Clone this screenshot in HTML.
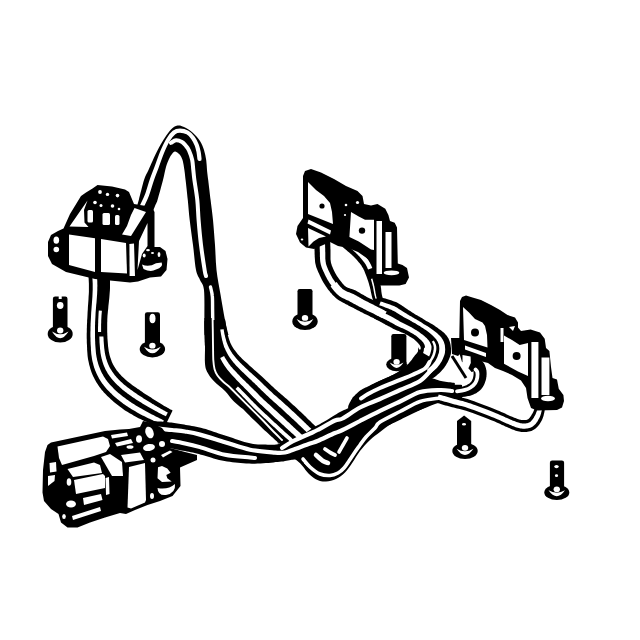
<!DOCTYPE html>
<html><head><meta charset="utf-8">
<style>
html,body{margin:0;padding:0;background:#fff;width:640px;height:640px;overflow:hidden}
svg{display:block}
</style></head><body>
<svg width="640" height="640" viewBox="0 0 640 640">
<path d="M134.0,216.0 C134.8,213.3 137.1,206.0 138.8,200.0 C140.4,194.0 142.4,185.0 144.0,180.0 C145.6,175.0 147.1,173.2 148.5,170.0 C149.9,166.8 150.8,164.8 152.5,161.0 C154.2,157.2 156.9,151.4 159.0,147.5 C161.1,143.6 163.0,140.5 165.0,137.5 C167.0,134.5 168.9,131.4 171.0,129.4 C173.1,127.4 175.3,126.0 177.5,125.6 C179.7,125.2 181.5,125.8 184.0,127.0 C186.5,128.2 189.8,130.2 192.5,132.5 C195.2,134.8 198.1,138.1 200.0,141.0 C201.9,143.9 203.0,146.8 204.0,150.0 C205.0,153.2 205.7,156.7 206.2,160.0 C206.7,163.3 206.7,166.7 207.0,170.0 C207.3,173.3 207.6,175.0 208.2,180.0 C208.8,185.0 209.8,193.3 210.6,200.0 C211.4,206.7 212.3,212.5 213.0,220.0 C213.7,227.5 214.4,236.7 215.0,245.0 C215.6,253.3 215.6,261.7 216.5,270.0 C217.4,278.3 219.2,286.7 220.6,295.0 C222.0,303.3 223.7,313.3 225.0,320.0 C226.3,326.7 227.9,332.5 228.5,335.0 L204.6,335.0 C204.6,332.5 204.5,327.5 204.4,320.0 C204.3,312.5 204.7,296.7 204.0,290.0 C203.3,283.3 201.3,283.3 200.0,280.0 C198.7,276.7 197.2,275.8 196.0,270.0 C194.8,264.2 194.1,253.3 193.0,245.0 C191.9,236.7 190.6,227.5 189.7,220.0 C188.8,212.5 188.5,206.7 187.8,200.0 C187.1,193.3 186.2,185.0 185.6,180.0 C185.0,175.0 184.9,173.2 184.4,170.0 C183.9,166.8 183.4,163.2 182.8,161.0 C182.2,158.8 181.7,157.8 181.0,156.5 C180.3,155.2 179.5,154.3 178.5,153.5 C177.5,152.7 176.1,151.4 175.0,151.5 C173.9,151.6 173.0,152.8 172.0,154.0 C171.0,155.2 170.0,156.8 169.0,159.0 C168.0,161.2 167.0,163.5 166.0,167.0 C165.0,170.5 164.4,174.5 163.0,180.0 C161.6,185.5 158.8,195.7 157.5,200.0 C156.2,204.3 156.1,203.3 155.0,206.0 C153.9,208.7 151.7,214.3 151.0,216.0 Z" fill="#000"/>
<path d="M142.0,206.0 C142.8,204.2 145.4,199.3 147.0,195.0 C148.6,190.7 150.2,184.6 151.8,180.0 C153.4,175.4 154.8,172.1 156.5,167.5 C158.2,162.9 160.1,157.1 162.0,152.5 C163.9,147.9 166.0,143.3 168.0,140.0 C170.0,136.7 172.0,134.1 174.0,132.5 C176.0,130.9 177.8,130.6 180.0,130.6 C182.2,130.6 185.3,131.3 187.5,132.5 C189.7,133.7 191.5,135.9 193.0,138.0 C194.5,140.1 195.8,142.7 196.7,145.0 C197.6,147.3 198.1,149.7 198.6,152.0 C199.1,154.3 199.3,157.8 199.5,159.0" stroke="#fff" stroke-width="4.2" fill="none" stroke-linecap="round" stroke-linejoin="round"/>
<path d="M171.0,142.8 C171.8,142.4 174.2,140.4 176.0,140.3 C177.8,140.2 180.3,141.1 182.0,142.0 C183.7,142.9 184.8,144.6 186.0,146.0 C187.2,147.4 188.0,148.2 189.0,150.5 C190.0,152.8 191.5,156.8 192.2,160.0 C192.9,163.2 192.9,166.7 193.3,170.0 C193.7,173.3 193.7,175.0 194.4,180.0 C195.1,185.0 196.6,193.3 197.3,200.0 C198.0,206.7 198.0,212.5 198.6,220.0 C199.2,227.5 200.0,236.7 201.0,245.0 C202.0,253.3 203.8,264.8 204.6,270.0 C205.4,275.2 205.8,275.0 206.0,276.0" stroke="#fff" stroke-width="4.0" fill="none" stroke-linecap="round" stroke-linejoin="round"/>
<path d="M210.5,287.0 C210.8,288.5 212.0,292.2 212.3,296.0 C212.7,299.8 212.5,305.2 212.6,310.0 C212.7,314.8 212.7,320.7 212.8,325.0 C212.9,329.3 213.0,334.2 213.0,336.0" stroke="#fff" stroke-width="3.4" fill="none" stroke-linecap="round" stroke-linejoin="round"/>
<path d="M204.4,318.0 C204.5,322.5 204.9,337.4 205.0,345.0 C205.1,352.6 204.6,359.2 205.0,363.8 C205.4,368.3 206.0,369.6 207.5,372.5 C209.0,375.4 210.8,377.9 213.8,381.0 C216.7,384.1 221.9,387.8 225.0,391.0 C228.1,394.2 229.6,397.0 232.5,400.0 C235.4,403.0 240.8,407.3 242.5,408.8 L246.0,401.0 C244.5,399.5 239.7,394.8 237.0,392.0 C234.3,389.2 232.7,386.8 230.0,384.0 C227.3,381.2 223.3,377.5 221.0,375.0 C218.7,372.5 217.3,371.2 216.0,369.0 C214.7,366.8 213.6,366.0 213.0,362.0 C212.4,358.0 212.7,352.3 212.5,345.0 C212.3,337.7 212.1,322.5 212.0,318.0 Z" fill="#000"/>
<path d="M225.0,319.2 L225.2,320.2 L225.4,321.3 L225.6,322.7 L225.8,324.2 L226.0,325.7 L226.3,327.4 L226.5,329.0 L226.8,330.6 L227.1,332.1 L227.4,333.5 L227.8,334.9 L228.2,336.3 L228.6,337.7 L229.0,339.0 L229.4,340.3 L229.9,341.5 L230.3,342.7 L230.8,343.7 L231.3,344.7 L231.8,345.7 L232.4,346.7 L233.0,347.7 L233.6,348.7 L234.3,349.7 L235.0,350.6 L235.7,351.6 L236.5,352.6 L237.2,353.5 L238.0,354.4 L238.8,355.3 L239.6,356.2 L240.5,357.1 L241.4,358.0 L242.3,358.9 L243.4,359.9 L244.5,360.9 L245.7,362.0 L246.9,363.1 L248.2,364.2 L249.4,365.4 L250.6,366.5 L251.8,367.6 L253.1,368.8 L254.4,369.9 L255.7,371.1 L257.1,372.3 L258.5,373.5 L259.9,374.8 L261.3,376.0 L262.7,377.3 L264.0,378.5 L265.3,379.7 L266.6,380.9 L267.8,382.1 L269.0,383.2 L270.1,384.3 L271.3,385.4 L272.5,386.5 L273.6,387.6 L274.8,388.7 L276.0,389.7 L277.2,390.8 L278.5,391.9 L279.8,393.0 L281.1,394.2 L282.4,395.3 L283.8,396.5 L285.1,397.7 L286.5,398.8 L287.9,400.0 L289.2,401.2 L290.5,402.5 L291.8,403.7 L293.1,404.9 L294.5,406.1 L295.8,407.3 L297.1,408.5 L298.3,409.7 L299.6,410.9 L300.9,412.0 L302.1,413.2 L303.2,414.3 L304.4,415.5 L305.6,416.6 L306.7,417.7 L307.9,418.9 L309.0,420.0 L310.2,421.1 L311.3,422.2 L312.5,423.4 L313.7,424.5 L315.0,425.8 L316.4,427.1 L317.7,428.4 L319.1,429.7 L320.4,431.0 L321.5,432.1 L322.6,433.2 L323.5,434.0 L324.2,434.7 L299.8,461.3 L299.1,460.7 L298.1,459.8 L297.0,458.9 L295.8,457.8 L294.4,456.6 L293.0,455.4 L291.6,454.2 L290.2,452.9 L288.8,451.8 L287.5,450.6 L286.3,449.6 L285.1,448.5 L283.8,447.5 L282.6,446.4 L281.4,445.4 L280.2,444.3 L278.9,443.3 L277.7,442.2 L276.4,441.1 L275.1,440.0 L273.9,438.8 L272.6,437.6 L271.3,436.4 L270.0,435.2 L268.7,434.0 L267.4,432.8 L266.0,431.6 L264.7,430.4 L263.4,429.2 L262.1,428.0 L260.9,426.8 L259.6,425.5 L258.4,424.3 L257.1,423.1 L255.8,421.8 L254.5,420.6 L253.1,419.3 L251.8,418.0 L250.5,416.7 L249.2,415.3 L247.9,414.0 L246.6,412.7 L245.4,411.4 L244.2,410.2 L243.0,408.9 L241.9,407.7 L240.7,406.4 L239.6,405.2 L238.4,404.0 L237.3,402.7 L236.1,401.5 L235.0,400.2 L233.7,398.8 L232.5,397.4 L231.2,396.0 L229.8,394.6 L228.5,393.1 L227.2,391.6 L225.8,390.1 L224.6,388.6 L223.4,387.2 L222.3,385.7 L221.2,384.3 L220.0,382.8 L218.9,381.2 L217.7,379.6 L216.5,378.0 L215.3,376.2 L214.2,374.5 L213.2,372.7 L212.2,370.8 L211.3,369.0 L210.5,367.2 L209.7,365.4 L209.0,363.6 L208.4,361.8 L207.8,359.9 L207.2,358.1 L206.7,356.2 L206.2,354.3 L205.8,352.4 L205.5,350.4 L205.2,348.5 L205.0,346.6 L204.8,344.8 L204.8,343.1 L204.7,341.4 L204.7,339.7 L204.6,338.1 L204.6,336.5 L204.5,334.8 L204.4,332.9 L204.4,331.0 L204.3,329.2 L204.3,327.4 L204.3,325.7 L204.3,324.1 L204.3,322.8 L204.4,321.6 L204.4,320.8 Z" fill="#000"/>
<path d="M223.7,329.3 L223.9,330.9 L224.2,332.4 L224.4,333.9 L224.8,335.3 L225.1,336.7 L225.5,338.2 L225.9,339.6 L226.2,340.9 L226.6,342.2 L227.1,343.4 L227.5,344.6 L228.0,345.7 L228.5,346.8 L229.0,347.9 L229.6,349.0 L230.2,350.1 L230.9,351.2 L231.6,352.3 L232.3,353.4 L233.1,354.5 L233.9,355.5 L234.7,356.6 L235.5,357.6 L236.3,358.6 L237.2,359.6 L238.1,360.6 L239.1,361.6 L240.2,362.7 L241.3,363.8 L242.5,364.9 L243.7,366.1 L244.9,367.2 L246.2,368.4 L247.4,369.6 L248.6,370.7 L249.9,371.9 L251.2,373.1 L252.5,374.3 L253.9,375.6 L255.3,376.8 L256.7,378.1 L258.0,379.3 L259.4,380.6 L260.7,381.8 L262.0,383.0 L263.2,384.2 L264.4,385.4 L265.6,386.6 L266.8,387.7 L267.9,388.8 L269.1,389.9 L270.3,391.0 L271.5,392.1 L272.7,393.2 L273.9,394.4 L275.2,395.5 L276.5,396.6 L277.8,397.8 L279.1,398.9 L280.5,400.1 L281.8,401.3 L283.2,402.5 L284.5,403.7 L285.8,404.9 L287.2,406.1 L288.5,407.3 L289.8,408.5 L291.1,409.7 L292.4,410.9 L293.7,412.1 L295.0,413.3 L296.3,414.5 L297.5,415.7 L298.7,416.8 L299.9,418.0 L301.1,419.1 L302.3,420.2 L303.4,421.3 L304.6,422.4 L305.8,423.6 L306.9,424.7 L308.1,425.8 L309.2,426.9 L310.5,428.1 L311.8,429.3 L313.2,430.6 L314.5,431.9 L315.9,433.2 L317.2,434.5 L318.4,435.6 L319.4,436.6 L320.3,437.5 L321.0,438.2 L317.4,442.2 L316.7,441.5 L315.7,440.6 L314.7,439.6 L313.5,438.5 L312.2,437.3 L310.8,436.0 L309.4,434.7 L308.1,433.4 L306.7,432.2 L305.5,431.0 L304.3,429.9 L303.1,428.8 L302.0,427.7 L300.8,426.6 L299.6,425.5 L298.5,424.4 L297.3,423.3 L296.1,422.1 L294.9,421.0 L293.7,419.8 L292.4,418.7 L291.1,417.5 L289.8,416.3 L288.5,415.1 L287.2,413.9 L285.9,412.7 L284.6,411.5 L283.3,410.3 L282.0,409.1 L280.7,407.8 L279.3,406.7 L278.0,405.5 L276.7,404.3 L275.3,403.1 L274.0,401.9 L272.7,400.7 L271.4,399.6 L270.1,398.4 L268.9,397.3 L267.6,396.1 L266.4,395.0 L265.2,393.8 L264.1,392.7 L262.9,391.6 L261.7,390.4 L260.5,389.2 L259.3,388.1 L258.1,386.9 L256.9,385.6 L255.6,384.4 L254.3,383.1 L252.9,381.9 L251.6,380.6 L250.2,379.3 L248.8,378.1 L247.5,376.8 L246.2,375.6 L244.9,374.3 L243.7,373.1 L242.5,371.9 L241.2,370.7 L240.0,369.4 L238.8,368.2 L237.6,367.0 L236.5,365.9 L235.4,364.7 L234.4,363.6 L233.4,362.5 L232.5,361.3 L231.7,360.2 L230.8,359.0 L230.0,357.9 L229.2,356.7 L228.4,355.5 L227.7,354.3 L227.0,353.1 L226.4,351.8 L225.7,350.6 L225.2,349.3 L224.6,348.1 L224.1,346.9 L223.7,345.6 L223.3,344.3 L222.9,343.0 L222.6,341.6 L222.2,340.2 L221.9,338.7 L221.6,337.3 L221.3,335.8 L221.0,334.3 L220.8,332.8 L220.5,331.2 L220.3,329.6 Z" fill="#fff"/>
<path d="M224.1,356.1 L224.8,357.4 L225.6,358.7 L226.4,360.0 L227.2,361.3 L228.1,362.6 L229.0,363.9 L229.9,365.1 L230.9,366.4 L232.0,367.6 L233.1,368.9 L234.2,370.1 L235.4,371.3 L236.6,372.6 L237.8,373.9 L239.0,375.1 L240.2,376.4 L241.5,377.7 L242.7,379.0 L244.1,380.3 L245.4,381.6 L246.7,382.9 L248.1,384.1 L249.4,385.4 L250.7,386.7 L252.0,388.0 L253.3,389.2 L254.5,390.4 L255.7,391.6 L256.9,392.8 L258.1,394.0 L259.2,395.2 L260.4,396.4 L261.6,397.5 L262.8,398.7 L264.0,399.9 L265.3,401.0 L266.6,402.2 L267.9,403.4 L269.2,404.6 L270.5,405.8 L271.8,407.0 L273.1,408.2 L274.4,409.4 L275.7,410.6 L277.1,411.8 L278.4,413.0 L279.7,414.2 L281.0,415.4 L282.3,416.6 L283.6,417.8 L284.9,419.0 L286.2,420.2 L287.5,421.4 L288.8,422.6 L290.1,423.8 L291.3,424.9 L292.5,426.0 L293.7,427.2 L294.9,428.3 L296.1,429.4 L297.3,430.4 L298.4,431.5 L299.6,432.6 L300.8,433.7 L302.0,434.8 L303.2,436.0 L304.6,437.2 L306.0,438.5 L307.4,439.8 L308.7,441.0 L310.0,442.2 L311.2,443.4 L312.3,444.4 L313.2,445.2 L313.9,445.9 L310.3,449.9 L309.6,449.2 L308.7,448.4 L307.6,447.4 L306.3,446.3 L305.0,445.1 L303.6,443.8 L302.2,442.5 L300.9,441.3 L299.5,440.1 L298.3,438.9 L297.1,437.8 L295.9,436.7 L294.7,435.7 L293.5,434.6 L292.3,433.5 L291.1,432.4 L289.9,431.3 L288.7,430.2 L287.4,429.1 L286.2,428.0 L284.9,426.8 L283.7,425.6 L282.4,424.4 L281.1,423.2 L279.8,422.0 L278.4,420.8 L277.1,419.6 L275.8,418.4 L274.5,417.2 L273.2,416.0 L271.9,414.8 L270.6,413.6 L269.3,412.3 L268.0,411.1 L266.7,409.9 L265.4,408.7 L264.1,407.5 L262.8,406.3 L261.5,405.1 L260.2,403.9 L259.0,402.7 L257.7,401.5 L256.5,400.3 L255.4,399.1 L254.2,397.9 L253.0,396.7 L251.8,395.5 L250.6,394.2 L249.4,393.0 L248.2,391.8 L247.0,390.5 L245.7,389.2 L244.4,387.9 L243.1,386.6 L241.7,385.3 L240.4,384.0 L239.1,382.6 L237.8,381.3 L236.5,380.0 L235.3,378.6 L234.1,377.3 L232.9,376.0 L231.7,374.7 L230.6,373.4 L229.4,372.1 L228.3,370.7 L227.2,369.4 L226.2,368.0 L225.1,366.6 L224.2,365.2 L223.3,363.8 L222.5,362.4 L221.7,360.9 L220.9,359.5 L220.2,358.0 Z" fill="#fff"/>
<path d="M237.9,386.4 L239.3,387.8 L240.6,389.1 L241.9,390.5 L243.2,391.8 L244.5,393.1 L245.7,394.3 L246.9,395.6 L248.1,396.8 L249.3,398.0 L250.4,399.2 L251.6,400.4 L252.8,401.6 L254.0,402.9 L255.2,404.1 L256.4,405.3 L257.6,406.5 L258.9,407.8 L260.2,409.0 L261.5,410.3 L262.8,411.5 L264.1,412.7 L265.4,413.9 L266.7,415.1 L268.0,416.3 L269.3,417.5 L270.6,418.8 L271.9,420.0 L273.2,421.2 L274.5,422.4 L275.9,423.6 L277.2,424.8 L278.5,426.0 L279.8,427.2 L281.1,428.4 L282.4,429.6 L283.6,430.8 L284.9,431.9 L286.1,433.0 L287.3,434.1 L288.6,435.2 L289.8,436.3 L291.0,437.3 L292.1,438.4 L293.3,439.5 L294.5,440.6 L295.8,441.6 L297.0,442.8 L298.4,444.0 L299.8,445.2 L301.2,446.5 L302.6,447.8 L303.9,449.0 L305.1,450.1 L306.2,451.0 L307.1,451.9 L307.9,452.5 L305.4,455.2 L304.7,454.5 L303.8,453.7 L302.7,452.7 L301.4,451.6 L300.1,450.5 L298.7,449.2 L297.3,448.0 L295.9,446.7 L294.5,445.5 L293.3,444.4 L292.0,443.3 L290.8,442.2 L289.6,441.2 L288.4,440.1 L287.2,439.0 L286.0,438.0 L284.8,436.9 L283.6,435.8 L282.3,434.7 L281.1,433.6 L279.8,432.4 L278.5,431.2 L277.2,430.0 L275.9,428.8 L274.6,427.6 L273.3,426.4 L272.0,425.2 L270.7,424.0 L269.3,422.7 L268.1,421.5 L266.8,420.3 L265.5,419.1 L264.2,417.9 L262.9,416.7 L261.6,415.5 L260.3,414.2 L259.0,413.0 L257.7,411.7 L256.4,410.5 L255.1,409.2 L253.8,407.9 L252.6,406.7 L251.4,405.5 L250.2,404.2 L249.0,403.0 L247.8,401.8 L246.7,400.6 L245.5,399.3 L244.3,398.1 L243.1,396.9 L241.9,395.6 L240.7,394.3 L239.4,393.0 L238.1,391.7 L236.8,390.3 L235.5,388.9 Z" fill="#fff"/>
<path d="M212.6,318.0 C212.6,320.0 212.7,325.5 212.8,330.0 C212.9,334.5 212.9,340.0 213.0,345.0 C213.1,350.0 213.1,356.0 213.3,360.0 C213.6,364.0 213.8,366.4 214.5,369.0 C215.2,371.6 216.1,373.4 217.5,375.5 C218.9,377.6 221.1,379.7 223.0,381.5 C224.9,383.3 226.6,384.2 229.0,386.5 C231.4,388.8 234.0,391.5 237.5,395.0 C241.0,398.5 245.9,403.4 250.0,407.5 C254.1,411.6 258.3,415.8 262.0,419.5 C265.7,423.2 268.7,426.6 272.0,430.0 C275.3,433.4 280.3,438.3 282.0,440.0" stroke="#fff" stroke-width="1.9" fill="none" stroke-linecap="round" stroke-linejoin="round"/>
<path d="M109.7,271.6 L109.7,272.6 L109.8,273.9 L109.8,275.4 L109.9,277.1 L109.9,279.1 L110.0,281.1 L110.0,283.4 L110.0,285.6 L110.0,288.0 L109.9,290.4 L109.7,292.8 L109.5,295.4 L109.3,298.0 L109.0,300.7 L108.7,303.4 L108.4,306.1 L108.2,308.7 L107.9,311.2 L107.7,313.5 L107.5,315.6 L107.4,317.6 L107.3,319.4 L107.3,321.2 L107.2,322.9 L107.2,324.5 L107.2,326.0 L107.2,327.5 L107.2,329.0 L107.2,330.5 L107.2,332.0 L107.3,333.5 L107.3,334.9 L107.4,336.3 L107.4,337.6 L107.5,338.9 L107.6,340.2 L107.7,341.5 L107.8,342.7 L107.9,344.0 L108.0,345.2 L108.1,346.5 L108.3,347.7 L108.4,348.8 L108.6,349.9 L108.7,350.9 L108.9,351.9 L109.1,352.8 L109.3,353.7 L109.5,354.7 L109.7,355.6 L110.0,356.6 L110.3,357.6 L110.7,358.6 L111.0,359.6 L111.4,360.6 L111.7,361.5 L112.1,362.5 L112.5,363.3 L112.9,364.2 L113.4,365.1 L113.9,365.9 L114.4,366.8 L114.9,367.6 L115.5,368.5 L116.0,369.3 L116.6,370.2 L117.3,371.0 L117.9,371.8 L118.6,372.6 L119.3,373.4 L120.0,374.2 L120.8,375.0 L121.5,375.9 L122.4,376.7 L123.2,377.5 L124.1,378.3 L125.0,379.2 L126.0,380.0 L127.0,380.9 L128.0,381.7 L129.0,382.5 L130.0,383.3 L131.0,384.1 L132.1,384.9 L133.2,385.7 L134.3,386.5 L135.5,387.3 L136.6,388.1 L137.8,388.9 L139.0,389.6 L140.1,390.5 L141.3,391.3 L142.4,392.1 L143.6,392.9 L144.8,393.7 L146.0,394.5 L147.3,395.3 L148.5,396.0 L149.7,396.8 L151.0,397.6 L152.2,398.4 L153.4,399.2 L154.6,400.0 L155.9,400.8 L157.1,401.5 L158.3,402.3 L159.6,403.1 L160.8,403.8 L162.0,404.5 L163.1,405.2 L164.2,405.9 L165.3,406.5 L166.4,407.1 L167.5,407.7 L168.6,408.3 L169.6,408.9 L170.5,409.4 L171.4,409.8 L172.1,410.2 L172.6,410.6 L163.4,429.4 L162.8,429.2 L162.0,428.9 L161.1,428.5 L160.1,428.1 L159.0,427.6 L157.9,427.1 L156.7,426.5 L155.4,425.9 L154.2,425.3 L152.9,424.8 L151.7,424.2 L150.4,423.7 L149.1,423.1 L147.7,422.5 L146.3,421.8 L144.8,421.2 L143.4,420.5 L141.9,419.8 L140.5,419.1 L139.0,418.4 L137.6,417.7 L136.3,416.9 L134.9,416.2 L133.5,415.4 L132.1,414.6 L130.6,413.8 L129.2,412.9 L127.8,412.1 L126.4,411.2 L125.0,410.4 L123.7,409.4 L122.4,408.5 L121.1,407.5 L119.7,406.5 L118.4,405.6 L117.1,404.5 L115.8,403.5 L114.5,402.5 L113.3,401.4 L112.0,400.3 L110.8,399.2 L109.6,398.1 L108.5,397.0 L107.3,395.9 L106.2,394.7 L105.0,393.6 L103.9,392.4 L102.8,391.1 L101.7,389.9 L100.7,388.6 L99.7,387.3 L98.8,385.9 L97.9,384.6 L97.0,383.3 L96.2,381.9 L95.4,380.6 L94.7,379.2 L94.0,377.8 L93.3,376.4 L92.6,374.9 L92.0,373.5 L91.4,372.0 L90.9,370.5 L90.4,369.0 L90.0,367.6 L89.6,366.1 L89.2,364.7 L88.9,363.2 L88.6,361.8 L88.3,360.4 L88.0,359.0 L87.8,357.5 L87.6,356.1 L87.5,354.7 L87.4,353.3 L87.3,352.0 L87.2,350.7 L87.1,349.4 L87.1,348.1 L87.0,346.8 L87.0,345.4 L86.9,344.0 L86.8,342.6 L86.8,341.1 L86.8,339.7 L86.7,338.2 L86.7,336.7 L86.7,335.2 L86.7,333.6 L86.8,332.0 L86.8,330.4 L86.8,328.8 L86.9,327.2 L86.9,325.6 L87.0,323.9 L87.1,322.2 L87.1,320.4 L87.3,318.5 L87.4,316.5 L87.5,314.4 L87.6,312.1 L87.8,309.6 L87.9,307.0 L88.1,304.4 L88.3,301.7 L88.5,299.0 L88.6,296.4 L88.8,294.0 L88.9,291.7 L88.9,289.6 L88.9,287.7 L88.9,285.7 L88.9,283.7 L88.8,281.7 L88.7,279.8 L88.6,278.0 L88.5,276.3 L88.4,274.8 L88.3,273.5 L88.3,272.4 Z" fill="#000"/>
<path d="M96.9,272.1 L96.9,273.1 L97.0,274.4 L97.0,276.0 L97.1,277.7 L97.2,279.5 L97.3,281.5 L97.3,283.6 L97.4,285.7 L97.3,287.8 L97.3,289.9 L97.2,292.1 L97.1,294.5 L96.9,297.1 L96.7,299.7 L96.5,302.4 L96.2,305.1 L96.0,307.7 L95.8,310.2 L95.6,312.7 L95.5,314.9 L95.4,316.9 L95.3,318.9 L95.2,320.7 L95.1,322.5 L95.1,324.1 L95.0,325.8 L95.0,327.3 L95.0,328.9 L95.0,330.4 L95.0,332.0 L95.0,333.5 L95.0,335.1 L95.0,336.5 L95.0,338.0 L95.1,339.4 L95.1,340.8 L95.2,342.1 L95.2,343.5 L95.3,344.8 L95.4,346.2 L95.5,347.4 L95.6,348.7 L95.7,349.9 L95.8,351.2 L95.9,352.4 L96.0,353.6 L96.2,354.8 L96.4,356.0 L96.6,357.2 L96.9,358.5 L97.1,359.7 L97.4,361.0 L97.8,362.2 L98.1,363.5 L98.5,364.8 L98.9,366.0 L99.4,367.3 L99.9,368.5 L100.4,369.8 L100.9,371.0 L101.5,372.2 L102.1,373.4 L102.8,374.6 L103.4,375.7 L104.1,376.9 L104.9,378.0 L105.6,379.2 L106.4,380.3 L107.3,381.4 L108.1,382.5 L109.0,383.6 L110.0,384.7 L111.0,385.8 L112.0,386.8 L113.0,387.8 L114.0,388.9 L115.1,389.9 L116.2,390.9 L117.3,391.9 L118.4,392.9 L119.5,393.8 L120.7,394.8 L121.9,395.7 L123.1,396.7 L124.3,397.6 L125.6,398.5 L126.8,399.4 L128.1,400.3 L129.3,401.2 L130.6,402.1 L131.9,402.9 L133.2,403.8 L134.5,404.6 L135.8,405.4 L137.2,406.2 L138.5,407.0 L139.8,407.8 L141.2,408.6 L142.5,409.3 L143.8,410.1 L145.1,410.8 L146.5,411.6 L147.9,412.3 L149.2,413.0 L150.6,413.7 L151.9,414.4 L153.3,415.1 L154.6,415.7 L155.8,416.4 L157.0,417.0 L158.2,417.6 L159.4,418.2 L160.6,418.7 L161.7,419.3 L162.9,419.9 L163.9,420.4 L161.8,424.6 L160.8,424.1 L159.6,423.6 L158.4,423.0 L157.2,422.4 L156.0,421.8 L154.8,421.3 L153.5,420.7 L152.3,420.1 L151.0,419.5 L149.6,418.8 L148.2,418.2 L146.8,417.5 L145.4,416.8 L144.0,416.1 L142.6,415.4 L141.2,414.7 L139.8,413.9 L138.5,413.2 L137.1,412.4 L135.7,411.6 L134.4,410.8 L133.0,410.0 L131.6,409.2 L130.2,408.3 L128.9,407.5 L127.5,406.6 L126.2,405.7 L124.9,404.8 L123.6,403.9 L122.4,402.9 L121.1,402.0 L119.8,401.0 L118.6,400.0 L117.3,399.0 L116.1,398.0 L114.9,397.0 L113.7,395.9 L112.6,394.9 L111.5,393.8 L110.3,392.7 L109.2,391.6 L108.1,390.5 L107.1,389.4 L106.0,388.2 L105.0,387.0 L104.0,385.8 L103.1,384.6 L102.2,383.4 L101.4,382.2 L100.6,380.9 L99.8,379.7 L99.0,378.4 L98.3,377.1 L97.6,375.8 L97.0,374.5 L96.4,373.2 L95.8,371.8 L95.2,370.4 L94.7,369.0 L94.2,367.7 L93.8,366.3 L93.4,364.9 L93.1,363.6 L92.7,362.2 L92.4,360.9 L92.1,359.5 L91.9,358.2 L91.7,356.8 L91.5,355.5 L91.3,354.2 L91.2,352.9 L91.1,351.6 L91.0,350.4 L90.9,349.1 L90.9,347.8 L90.8,346.5 L90.7,345.1 L90.6,343.8 L90.6,342.4 L90.5,341.0 L90.5,339.6 L90.5,338.1 L90.4,336.6 L90.4,335.1 L90.4,333.6 L90.4,332.0 L90.5,330.4 L90.5,328.9 L90.5,327.3 L90.6,325.7 L90.6,324.0 L90.7,322.3 L90.8,320.5 L90.9,318.7 L91.0,316.7 L91.1,314.6 L91.2,312.3 L91.4,309.9 L91.6,307.3 L91.8,304.7 L92.0,302.0 L92.2,299.3 L92.4,296.7 L92.5,294.2 L92.6,291.9 L92.7,289.8 L92.7,287.7 L92.7,285.7 L92.7,283.6 L92.6,281.6 L92.5,279.7 L92.4,277.9 L92.3,276.2 L92.2,274.6 L92.2,273.3 L92.1,272.3 Z" fill="#fff"/>
<path d="M103.4,336.4 L103.5,337.7 L103.6,339.1 L103.6,340.4 L103.7,341.7 L103.8,343.0 L103.9,344.3 L104.0,345.5 L104.1,346.8 L104.2,348.0 L104.4,349.2 L104.5,350.3 L104.7,351.4 L104.8,352.4 L105.0,353.5 L105.2,354.5 L105.4,355.5 L105.7,356.5 L105.9,357.6 L106.2,358.7 L106.6,359.8 L106.9,360.8 L107.3,361.9 L107.7,362.9 L108.1,364.0 L108.5,365.0 L109.0,366.0 L109.4,366.9 L110.0,367.9 L110.5,368.9 L111.1,369.8 L111.7,370.8 L112.3,371.7 L112.9,372.6 L113.6,373.6 L114.3,374.5 L115.0,375.4 L115.8,376.3 L116.5,377.2 L117.3,378.1 L118.2,379.0 L119.1,379.9 L120.0,380.8 L120.9,381.7 L121.9,382.6 L122.9,383.5 L123.9,384.4 L124.9,385.2 L126.0,386.1 L127.0,386.9 L128.1,387.8 L129.2,388.6 L130.4,389.5 L131.6,390.3 L132.7,391.1 L133.9,392.0 L135.1,392.8 L136.3,393.6 L137.5,394.4 L138.7,395.2 L139.9,396.0 L141.2,396.8 L142.4,397.6 L143.6,398.4 L144.9,399.2 L146.2,400.0 L147.4,400.8 L148.7,401.5 L149.9,402.3 L151.2,403.1 L152.5,403.9 L153.8,404.6 L155.0,405.4 L156.3,406.1 L157.6,406.9 L158.8,407.6 L160.0,408.3 L161.1,408.9 L162.3,409.6 L163.4,410.2 L164.6,410.8 L165.7,411.4 L166.8,412.0 L167.8,412.5 L165.9,416.3 L164.9,415.8 L163.8,415.3 L162.6,414.7 L161.4,414.1 L160.3,413.5 L159.1,412.9 L157.9,412.2 L156.7,411.6 L155.5,410.9 L154.2,410.2 L152.9,409.5 L151.6,408.7 L150.2,408.0 L148.9,407.2 L147.6,406.5 L146.3,405.7 L145.0,405.0 L143.7,404.2 L142.4,403.4 L141.1,402.6 L139.8,401.8 L138.6,401.0 L137.3,400.2 L136.0,399.4 L134.8,398.6 L133.5,397.7 L132.3,396.9 L131.1,396.0 L129.9,395.2 L128.6,394.3 L127.4,393.4 L126.3,392.6 L125.1,391.7 L124.0,390.8 L122.8,389.9 L121.8,389.0 L120.7,388.0 L119.6,387.1 L118.6,386.1 L117.6,385.2 L116.6,384.2 L115.6,383.3 L114.7,382.3 L113.8,381.3 L112.9,380.3 L112.0,379.3 L111.2,378.3 L110.5,377.3 L109.7,376.3 L109.0,375.3 L108.3,374.2 L107.6,373.2 L107.0,372.1 L106.4,371.1 L105.8,370.0 L105.3,368.9 L104.8,367.8 L104.3,366.7 L103.8,365.6 L103.4,364.4 L103.0,363.3 L102.6,362.1 L102.3,361.0 L102.0,359.8 L101.6,358.6 L101.4,357.5 L101.1,356.3 L100.9,355.2 L100.7,354.1 L100.5,353.0 L100.4,351.9 L100.3,350.7 L100.1,349.5 L100.0,348.3 L99.9,347.1 L99.8,345.8 L99.7,344.5 L99.6,343.2 L99.5,341.9 L99.5,340.6 L99.4,339.2 L99.4,337.8 L99.3,336.4 Z" fill="#fff"/>
<path d="M101.9,310.7 L101.7,313.1 L101.5,315.2 L101.4,317.3 L101.3,319.1 L101.2,320.9 L101.2,322.7 L101.1,324.3 L101.1,325.9 L101.1,327.4 L101.1,329.0 L101.1,330.5 L101.1,332.0 L98.0,332.0 L98.0,330.5 L98.0,328.9 L98.0,327.4 L98.1,325.8 L98.1,324.2 L98.2,322.6 L98.2,320.8 L98.3,319.0 L98.4,317.1 L98.5,315.1 L98.6,312.9 L98.8,310.5 Z" fill="#fff"/>
<path d="M277.0,442.0 C279.2,444.2 286.6,451.8 290.0,455.0 C293.4,458.2 295.4,459.2 297.5,461.0 C299.6,462.8 300.6,463.8 302.5,466.0 C304.4,468.2 306.5,471.7 309.0,474.0 C311.5,476.3 314.7,478.8 317.5,480.0 C320.3,481.2 322.9,481.7 326.0,481.5 C329.1,481.3 332.8,480.5 336.0,479.0 C339.2,477.5 342.2,475.2 345.0,472.5 C347.8,469.8 350.0,466.1 352.5,462.5 C355.0,458.9 357.1,454.8 360.0,451.0 C362.9,447.2 366.7,443.2 370.0,440.0 C373.3,436.8 376.5,434.7 380.0,432.0 C383.5,429.3 386.5,426.8 391.0,424.0 C395.5,421.2 401.8,417.5 407.0,415.0 C412.2,412.5 417.3,411.0 422.5,409.0 C427.7,407.0 433.3,404.5 438.0,403.0 C442.7,401.5 446.6,400.5 450.6,400.0 C454.6,399.5 460.1,400.0 462.0,400.0 L462.0,385.0 C460.1,385.0 454.6,384.7 450.6,385.0 C446.6,385.3 442.7,386.0 438.0,387.0 C433.3,388.0 427.7,389.5 422.5,391.0 C417.3,392.5 412.2,394.2 407.0,396.0 C401.8,397.8 396.3,399.7 391.0,402.0 C385.7,404.3 380.2,407.3 375.0,410.0 C369.8,412.7 365.0,415.0 360.0,418.0 C355.0,421.0 349.7,425.0 345.0,428.0 C340.3,431.0 336.7,433.5 332.0,436.0 C327.3,438.5 322.3,440.7 317.0,443.0 C311.7,445.3 305.7,448.5 300.0,450.0 C294.3,451.5 285.8,451.7 283.0,452.0 Z" fill="#000"/>
<path d="M151.1,421.1 L152.0,421.1 L153.1,421.1 L154.5,421.2 L156.0,421.3 L157.7,421.4 L159.5,421.5 L161.3,421.6 L163.1,421.8 L164.9,421.9 L166.6,422.1 L168.2,422.3 L169.8,422.4 L171.3,422.6 L172.8,422.8 L174.3,423.0 L175.8,423.2 L177.4,423.5 L179.0,423.7 L180.6,423.9 L182.3,424.2 L184.1,424.5 L185.9,424.9 L187.8,425.2 L189.7,425.5 L191.8,425.9 L193.9,426.3 L196.1,426.8 L198.4,427.3 L200.8,427.8 L203.3,428.4 L205.8,429.1 L208.4,429.9 L210.9,430.8 L213.5,431.7 L216.1,432.5 L218.6,433.4 L221.0,434.2 L223.5,435.0 L225.8,435.7 L228.2,436.4 L230.5,437.3 L232.9,438.1 L235.2,438.9 L237.6,439.8 L239.9,440.5 L242.1,441.3 L244.4,442.0 L246.6,442.6 L248.8,443.1 L251.0,443.6 L253.2,444.0 L255.5,444.2 L258.0,444.4 L260.4,444.5 L262.9,444.6 L265.4,444.6 L267.8,444.7 L270.2,444.7 L272.4,444.7 L274.4,444.7 L276.1,444.5 L277.7,444.3 L279.2,444.1 L280.6,443.9 L281.9,443.6 L283.1,443.4 L284.4,443.1 L285.6,442.8 L286.9,442.5 L288.1,442.2 L289.3,441.8 L290.4,441.5 L291.2,441.3 L291.9,441.0 L292.4,440.8 L292.8,440.6 L293.3,440.3 L293.9,440.0 L294.7,439.5 L295.6,439.0 L296.8,438.3 L298.2,437.5 L299.7,436.5 L301.3,435.4 L303.1,434.3 L304.9,433.1 L306.8,431.9 L308.6,430.7 L310.4,429.5 L312.1,428.4 L313.8,427.4 L315.4,426.5 L317.0,425.6 L318.6,424.7 L320.1,423.9 L321.5,423.0 L323.0,422.2 L324.3,421.4 L325.7,420.7 L327.0,419.9 L328.2,419.2 L329.4,418.4 L330.5,417.7 L331.7,417.0 L332.9,416.3 L334.1,415.5 L335.4,414.7 L336.7,413.9 L338.1,413.1 L339.5,412.3 L341.0,411.6 L342.5,410.8 L344.0,410.1 L345.5,409.4 L347.0,408.7 L348.5,408.0 L350.1,407.3 L351.7,406.6 L353.3,405.9 L355.0,405.1 L356.9,404.2 L358.8,403.4 L360.7,402.5 L362.8,401.6 L364.8,400.7 L366.9,399.8 L368.9,398.9 L371.0,397.9 L373.0,397.0 L375.0,396.1 L376.9,395.2 L378.9,394.3 L380.9,393.3 L382.8,392.4 L384.8,391.5 L386.8,390.5 L388.8,389.5 L390.8,388.6 L392.8,387.7 L394.6,386.8 L396.4,385.9 L398.3,385.0 L400.2,383.9 L402.2,382.8 L404.4,381.6 L406.8,380.4 L409.3,379.3 L412.0,378.2 L415.0,377.3 L418.2,376.6 L421.5,376.5 L424.7,376.7 L427.6,377.1 L430.3,377.7 L432.7,378.4 L434.8,379.1 L436.8,379.8 L438.4,380.3 L439.8,380.7 L441.1,381.1 L442.4,381.3 L443.9,381.6 L445.4,381.8 L447.0,382.0 L448.6,382.2 L450.1,382.3 L451.5,382.5 L452.8,382.7 L453.9,382.8 L454.8,383.0 L455.2,399.0 L454.4,399.2 L453.3,399.4 L452.0,399.7 L450.6,399.9 L448.9,400.2 L447.1,400.4 L445.3,400.6 L443.3,400.8 L441.1,400.9 L438.9,400.9 L436.6,400.8 L434.2,400.5 L432.0,400.1 L429.9,399.7 L427.9,399.4 L426.2,399.2 L424.7,399.0 L423.5,399.0 L422.5,399.1 L421.8,399.4 L421.0,399.6 L420.0,400.0 L418.7,400.6 L417.2,401.4 L415.6,402.3 L413.8,403.4 L411.8,404.6 L409.7,405.8 L407.6,407.1 L405.4,408.2 L403.2,409.3 L401.2,410.2 L399.2,411.2 L397.2,412.1 L395.2,413.1 L393.2,414.1 L391.1,415.0 L389.1,416.0 L387.1,416.9 L385.0,417.9 L383.0,418.8 L380.9,419.8 L378.8,420.7 L376.7,421.7 L374.6,422.6 L372.5,423.5 L370.5,424.4 L368.6,425.3 L366.7,426.1 L365.0,426.9 L363.2,427.7 L361.6,428.5 L360.0,429.2 L358.5,429.9 L357.1,430.5 L355.7,431.2 L354.3,431.8 L353.0,432.4 L351.7,433.1 L350.5,433.7 L349.2,434.3 L348.1,434.8 L346.9,435.4 L345.8,436.0 L344.6,436.6 L343.4,437.3 L342.2,437.9 L340.8,438.6 L339.5,439.3 L338.0,440.1 L336.5,440.8 L335.1,441.6 L333.6,442.3 L332.1,443.0 L330.6,443.8 L329.0,444.5 L327.5,445.3 L326.0,446.0 L324.4,446.8 L322.9,447.6 L321.2,448.4 L319.5,449.3 L317.6,450.3 L315.7,451.3 L313.8,452.4 L311.8,453.4 L309.9,454.4 L307.9,455.4 L306.1,456.2 L304.4,457.0 L302.7,457.6 L301.3,458.1 L299.9,458.6 L298.6,458.9 L297.3,459.2 L296.1,459.3 L295.1,459.5 L294.0,459.6 L293.0,459.7 L291.9,459.8 L290.6,460.0 L289.4,460.3 L288.0,460.6 L286.5,460.8 L285.0,461.1 L283.3,461.4 L281.6,461.6 L279.7,461.8 L277.7,462.0 L275.6,462.1 L273.5,462.4 L271.1,462.7 L268.6,462.9 L266.0,463.1 L263.3,463.3 L260.5,463.5 L257.7,463.6 L254.8,463.7 L251.9,463.7 L249.0,463.6 L246.2,463.5 L243.4,463.3 L240.6,463.1 L237.9,462.8 L235.1,462.5 L232.4,462.2 L229.8,461.8 L227.1,461.4 L224.5,461.0 L221.8,460.6 L219.1,459.9 L216.4,459.2 L213.6,458.4 L210.9,457.6 L208.3,456.8 L205.8,456.1 L203.3,455.3 L201.0,454.7 L198.8,454.1 L196.7,453.6 L194.7,453.1 L192.8,452.6 L190.8,452.2 L188.9,451.8 L187.0,451.5 L185.1,451.1 L183.2,450.8 L181.3,450.4 L179.5,450.1 L177.7,449.8 L176.0,449.4 L174.4,449.1 L172.9,448.8 L171.4,448.5 L170.1,448.2 L168.7,447.9 L167.4,447.6 L166.1,447.4 L164.7,447.1 L163.4,446.9 L162.0,446.7 L160.4,446.4 L158.8,446.2 L157.1,446.0 L155.4,445.8 L153.8,445.6 L152.3,445.4 L151.0,445.2 L149.8,445.1 L148.9,444.9 Z" fill="#000"/>
<path d="M382.2,297.8 L383.0,298.0 L384.1,298.3 L385.4,298.6 L386.8,299.1 L388.4,299.6 L390.1,300.1 L391.7,300.6 L393.4,301.2 L395.0,301.7 L396.5,302.3 L397.8,303.0 L399.0,303.7 L400.2,304.4 L401.2,305.1 L402.1,305.7 L403.0,306.3 L403.7,306.8 L404.4,307.3 L405.1,307.8 L405.8,308.3 L406.6,308.8 L407.4,309.3 L408.3,309.9 L409.2,310.5 L410.2,311.1 L411.2,311.7 L412.2,312.4 L413.2,313.0 L414.3,313.7 L415.3,314.4 L416.4,315.0 L417.4,315.6 L418.5,316.2 L419.6,316.8 L420.7,317.4 L421.8,318.1 L422.9,318.8 L424.0,319.5 L425.1,320.2 L426.2,320.9 L427.3,321.5 L428.4,322.1 L429.6,322.7 L430.8,323.4 L431.9,324.1 L433.1,324.8 L434.3,325.6 L435.5,326.4 L436.7,327.2 L437.8,328.1 L438.9,328.9 L440.1,329.7 L441.2,330.5 L442.3,331.4 L443.4,332.3 L444.5,333.3 L445.5,334.4 L446.5,335.6 L447.5,337.0 L448.5,338.4 L449.1,340.0 L449.7,341.6 L450.2,343.3 L450.6,345.0 L450.8,346.7 L451.0,348.3 L451.0,349.9 L451.0,351.4 L451.0,352.8 L450.8,354.2 L450.4,355.6 L449.9,357.0 L449.4,358.3 L448.8,359.7 L448.2,361.1 L447.5,362.5 L446.7,363.8 L445.9,365.2 L445.0,366.6 L444.0,368.0 L442.9,369.3 L441.8,370.6 L440.7,371.7 L439.7,372.8 L438.6,373.8 L437.6,374.6 L436.6,375.4 L435.7,376.2 L434.8,376.9 L433.9,377.6 L433.0,378.2 L432.0,378.8 L431.0,379.5 L429.9,380.2 L428.8,380.9 L427.6,381.7 L426.3,382.4 L425.0,383.2 L423.6,384.0 L422.2,384.7 L420.7,385.6 L419.2,386.4 L417.6,387.2 L416.0,388.1 L414.3,389.0 L412.6,389.8 L410.8,390.7 L408.9,391.6 L407.0,392.5 L405.1,393.4 L403.1,394.4 L400.9,395.4 L398.7,396.4 L396.5,397.5 L394.3,398.4 L392.1,399.4 L390.0,400.3 L388.1,401.2 L386.2,402.0 L384.6,402.8 L383.0,403.4 L381.6,403.9 L380.2,404.3 L378.9,404.8 L377.7,405.2 L376.6,405.6 L375.4,406.0 L374.3,406.3 L373.3,406.7 L372.2,407.0 L371.0,407.3 L369.9,407.6 L368.7,407.9 L367.6,408.2 L366.5,408.5 L365.4,408.7 L364.4,408.9 L363.6,409.1 L362.8,409.2 L362.2,409.3 L355.8,396.7 L356.3,396.3 L356.8,395.7 L357.4,395.1 L358.2,394.4 L359.0,393.7 L359.9,393.0 L360.9,392.2 L361.9,391.5 L362.9,390.7 L363.8,390.0 L364.8,389.3 L365.8,388.7 L366.8,388.0 L367.8,387.4 L368.9,386.7 L370.0,386.0 L371.2,385.3 L372.5,384.5 L373.9,383.7 L375.4,382.8 L377.2,382.0 L379.1,381.1 L381.1,380.2 L383.2,379.3 L385.3,378.4 L387.4,377.4 L389.5,376.5 L391.4,375.6 L393.3,374.7 L394.9,373.8 L396.4,372.9 L397.9,371.9 L399.3,370.9 L400.7,369.9 L402.0,368.9 L403.3,367.9 L404.6,367.0 L405.7,366.0 L406.8,365.1 L407.8,364.3 L408.7,363.4 L409.4,362.6 L410.1,361.8 L410.7,361.1 L411.2,360.4 L411.8,359.7 L412.3,358.9 L412.9,358.1 L413.5,357.3 L414.1,356.4 L414.8,355.6 L415.5,354.8 L416.1,354.1 L416.6,353.5 L417.1,352.9 L417.4,352.3 L417.7,351.9 L417.9,351.5 L418.0,351.3 L418.0,351.0 L418.0,350.8 L418.1,350.5 L418.1,350.1 L418.1,349.7 L418.1,349.4 L418.2,349.0 L418.1,348.6 L418.1,348.3 L418.0,348.0 L418.0,347.8 L418.1,347.6 L418.2,347.6 L418.4,347.7 L418.5,347.9 L418.6,348.2 L418.8,348.5 L418.9,348.8 L419.1,349.2 L419.4,349.4 L419.5,349.6 L419.9,349.6 L420.2,349.6 L420.4,349.4 L420.6,349.1 L420.7,348.7 L420.7,348.2 L420.7,347.7 L420.6,347.1 L420.4,346.5 L420.2,345.9 L419.9,345.4 L419.5,344.8 L418.9,344.2 L418.4,343.5 L417.7,342.8 L417.0,342.1 L416.2,341.3 L415.4,340.6 L414.6,339.8 L413.8,339.1 L413.0,338.5 L412.1,338.0 L411.3,337.5 L410.4,336.9 L409.5,336.4 L408.5,335.8 L407.6,335.3 L406.6,334.7 L405.6,334.2 L404.7,333.6 L403.7,333.2 L402.7,332.8 L401.7,332.4 L400.7,332.0 L399.7,331.6 L398.6,331.1 L397.6,330.7 L396.4,330.2 L395.3,329.7 L394.2,329.2 L393.0,328.7 L392.0,328.1 L391.0,327.5 L390.1,327.0 L389.3,326.6 L388.5,326.2 L387.8,325.8 L387.1,325.4 L386.3,325.1 L385.5,324.7 L384.6,324.1 L383.5,323.5 L382.2,322.8 L380.9,322.0 L379.5,321.3 L378.1,320.6 L376.8,319.9 L375.6,319.2 L374.6,318.7 L373.8,318.2 Z" fill="#000"/>
<path d="M348.0,407.6 L348.1,406.9 L348.3,406.0 L348.6,405.1 L349.0,404.2 L349.5,403.1 L350.1,402.0 L350.7,400.9 L351.3,399.8 L352.0,398.7 L352.6,397.6 L353.4,396.8 L354.1,396.1 L354.8,395.4 L355.5,394.6 L356.2,393.9 L357.0,393.2 L357.8,392.5 L358.6,391.7 L359.5,391.0 L360.5,390.2 L361.5,389.7 L362.6,389.1 L363.6,388.6 L364.6,388.1 L365.5,387.6 L366.4,387.2 L367.4,386.7 L368.4,386.2 L369.5,385.7 L370.8,385.0 L372.3,384.3 L374.1,383.6 L375.9,382.7 L378.0,381.8 L380.1,380.8 L382.2,379.8 L384.4,378.8 L386.5,377.8 L388.7,376.9 L390.7,375.9 L392.8,375.0 L394.9,374.0 L397.0,373.1 L399.1,372.1 L401.3,371.1 L403.4,370.1 L405.4,369.2 L407.4,368.3 L409.3,367.4 L411.1,366.6 L412.8,365.9 L414.4,365.2 L416.0,364.6 L417.5,364.0 L418.9,363.5 L420.2,363.0 L421.3,362.6 L422.3,362.2 L423.1,361.9 L423.8,361.7 L440.2,400.3 L439.5,400.7 L438.7,401.1 L437.8,401.5 L436.7,402.0 L435.6,402.6 L434.4,403.1 L433.1,403.7 L431.8,404.4 L430.4,405.1 L428.9,405.8 L427.3,406.5 L425.6,407.3 L423.7,408.2 L421.8,409.2 L419.7,410.2 L417.6,411.2 L415.5,412.2 L413.4,413.3 L411.3,414.3 L409.3,415.3 L407.2,416.3 L405.1,417.3 L403.0,418.3 L400.8,419.4 L398.7,420.4 L396.6,421.4 L394.6,422.4 L392.7,423.3 L390.9,424.2 L389.2,425.0 L387.7,425.6 L386.3,426.2 L385.0,426.7 L383.9,427.2 L382.9,427.5 L382.0,427.8 L381.3,428.1 L380.7,428.3 L380.1,428.5 L379.5,428.8 L378.9,428.8 L378.2,428.9 L377.6,428.9 L377.0,429.0 L376.4,429.0 L375.8,429.1 L375.2,429.1 L374.6,429.2 L374.0,429.3 L373.4,429.4 L372.6,429.3 L371.7,429.2 L370.7,429.2 L369.7,429.3 L368.6,429.4 L367.6,429.5 L366.6,429.5 L365.6,429.6 L364.7,429.5 L364.0,429.4 Z" fill="#000"/>
<path d="M330.0,235.7 L330.0,236.6 L330.1,237.7 L330.1,239.0 L330.2,240.4 L330.2,242.0 L330.3,243.6 L330.3,245.2 L330.4,246.8 L330.4,248.3 L330.5,249.8 L330.5,251.1 L330.5,252.5 L330.5,253.8 L330.5,255.0 L330.5,256.2 L330.5,257.2 L330.5,258.3 L330.5,259.2 L330.6,260.0 L330.7,260.8 L330.8,261.5 L330.9,262.2 L331.0,262.8 L331.2,263.4 L331.4,264.1 L331.6,264.7 L331.8,265.4 L332.1,266.2 L332.5,267.0 L332.8,267.9 L333.3,268.9 L333.7,269.9 L334.2,270.9 L334.7,271.9 L335.2,272.9 L335.8,273.9 L336.4,274.9 L336.9,275.9 L337.5,276.8 L338.2,277.8 L338.9,278.7 L339.6,279.8 L340.4,280.8 L341.2,281.8 L342.0,282.8 L342.7,283.7 L343.5,284.6 L344.3,285.4 L345.0,286.0 L345.6,286.6 L346.3,287.0 L347.0,287.3 L347.7,287.7 L348.6,288.0 L349.5,288.3 L350.6,288.7 L351.8,289.1 L353.1,289.5 L354.4,290.1 L355.7,290.6 L356.9,291.3 L358.1,292.0 L359.2,292.6 L360.3,293.3 L361.4,293.9 L362.5,294.5 L363.6,295.1 L364.6,295.7 L365.7,296.3 L366.7,296.9 L367.8,297.5 L368.8,298.0 L369.9,298.5 L371.0,299.1 L372.1,299.6 L373.1,300.2 L374.2,300.7 L375.3,301.2 L376.5,301.8 L377.6,302.3 L378.7,303.0 L379.9,303.6 L381.2,304.3 L382.4,305.0 L383.7,305.7 L384.8,306.3 L385.9,306.9 L386.9,307.5 L387.7,307.9 L388.4,308.3 L381.6,321.7 L381.0,321.4 L380.1,321.0 L379.1,320.6 L377.9,320.1 L376.7,319.5 L375.4,318.9 L374.1,318.3 L372.8,317.8 L371.6,317.2 L370.4,316.7 L369.3,316.1 L368.3,315.6 L367.2,315.0 L366.1,314.5 L364.9,314.0 L363.8,313.4 L362.7,312.8 L361.6,312.3 L360.4,311.7 L359.3,311.1 L358.1,310.5 L357.0,309.9 L355.8,309.3 L354.7,308.7 L353.6,308.1 L352.5,307.5 L351.4,306.9 L350.3,306.4 L349.3,305.9 L348.3,305.4 L347.4,304.8 L346.5,304.4 L345.5,303.9 L344.4,303.3 L343.2,302.7 L341.9,302.1 L340.6,301.3 L339.2,300.5 L337.7,299.5 L336.4,298.4 L335.0,297.3 L333.8,296.1 L332.6,294.9 L331.5,293.6 L330.4,292.4 L329.4,291.1 L328.4,289.9 L327.5,288.7 L326.7,287.4 L325.8,286.2 L325.0,285.0 L324.2,283.7 L323.4,282.5 L322.7,281.2 L322.0,279.9 L321.4,278.7 L320.8,277.5 L320.2,276.3 L319.7,275.2 L319.2,274.1 L318.7,273.1 L318.2,272.1 L317.8,271.1 L317.4,270.1 L317.0,269.1 L316.6,268.0 L316.2,266.9 L315.9,265.7 L315.6,264.5 L315.3,263.2 L315.1,261.9 L315.0,260.5 L314.9,259.1 L314.8,257.8 L314.7,256.5 L314.7,255.2 L314.6,253.9 L314.6,252.7 L314.6,251.5 L314.5,250.2 L314.5,248.9 L314.4,247.4 L314.3,245.8 L314.3,244.2 L314.2,242.5 L314.2,241.0 L314.1,239.5 L314.1,238.2 L314.0,237.1 L314.0,236.3 Z" fill="#000"/>
<path d="M349.6,237.2 L350.2,237.6 L350.9,238.1 L351.8,238.7 L352.8,239.3 L353.8,240.1 L355.0,240.9 L356.1,241.7 L357.2,242.5 L358.3,243.3 L359.2,244.1 L360.1,244.8 L360.9,245.6 L361.7,246.3 L362.5,247.1 L363.3,247.8 L364.0,248.6 L364.8,249.4 L365.5,250.1 L366.2,250.9 L366.9,251.7 L367.6,252.5 L368.3,253.3 L368.9,254.1 L369.6,255.0 L370.3,255.8 L371.0,256.8 L371.7,257.7 L372.4,258.7 L373.1,259.8 L373.7,260.8 L374.2,262.0 L374.7,263.1 L375.2,264.3 L375.6,265.4 L376.0,266.6 L376.4,267.7 L376.7,268.8 L377.1,269.9 L377.4,271.0 L377.7,272.1 L378.0,273.3 L378.3,274.4 L378.6,275.6 L378.9,276.8 L379.2,277.9 L379.4,279.1 L379.7,280.3 L379.9,281.5 L380.2,282.6 L380.4,283.8 L380.6,285.0 L380.8,286.2 L380.9,287.4 L381.1,288.6 L381.2,289.7 L381.3,290.8 L381.4,291.9 L381.6,292.9 L381.7,293.9 L381.9,294.8 L382.1,295.8 L382.4,296.9 L382.7,298.0 L383.1,299.1 L383.4,300.2 L383.7,301.3 L384.1,302.2 L384.3,303.1 L384.6,303.9 L384.8,304.5 L375.2,307.5 L375.1,306.9 L374.8,306.2 L374.5,305.3 L374.2,304.3 L373.9,303.2 L373.5,302.0 L373.1,300.8 L372.8,299.6 L372.4,298.3 L372.1,297.2 L371.8,296.0 L371.5,294.8 L371.3,293.7 L371.0,292.5 L370.8,291.4 L370.6,290.3 L370.4,289.2 L370.1,288.2 L369.9,287.2 L369.6,286.2 L369.3,285.2 L369.0,284.1 L368.7,283.0 L368.4,282.0 L368.1,280.9 L367.7,279.9 L367.4,278.9 L367.0,277.9 L366.7,276.9 L366.3,275.9 L365.9,274.9 L365.5,273.9 L365.1,272.9 L364.7,272.0 L364.4,271.1 L364.0,270.2 L363.6,269.4 L363.2,268.6 L362.7,267.8 L362.3,267.2 L361.9,266.5 L361.5,265.8 L361.0,265.1 L360.6,264.5 L360.0,263.8 L359.5,263.1 L358.9,262.4 L358.3,261.7 L357.7,261.0 L357.1,260.3 L356.5,259.6 L355.9,258.9 L355.3,258.3 L354.7,257.7 L354.1,257.0 L353.5,256.4 L352.8,255.8 L352.1,255.2 L351.5,254.5 L350.8,253.9 L350.0,253.2 L349.2,252.5 L348.2,251.7 L347.3,250.9 L346.3,250.0 L345.3,249.2 L344.4,248.5 L343.6,247.8 L342.9,247.2 L342.4,246.8 Z" fill="#000"/>
<path d="M439.7,391.2 L440.5,391.5 L441.5,391.8 L442.7,392.1 L444.1,392.5 L445.5,392.9 L447.1,393.4 L448.7,393.8 L450.4,394.3 L452.0,394.8 L453.6,395.2 L455.2,395.7 L456.7,396.1 L458.4,396.5 L460.0,397.0 L461.8,397.5 L463.6,398.0 L465.6,398.5 L467.6,399.1 L469.6,399.8 L471.8,400.5 L474.2,401.3 L476.6,402.2 L479.2,403.2 L481.9,404.2 L484.6,405.2 L487.3,406.3 L490.0,407.3 L492.5,408.3 L494.9,409.3 L497.2,410.2 L499.3,411.1 L501.3,411.9 L503.3,412.8 L505.1,413.6 L506.8,414.4 L508.5,415.2 L510.0,415.9 L511.5,416.5 L512.8,417.1 L514.2,417.7 L515.4,418.1 L516.5,418.5 L517.6,418.9 L518.5,419.2 L519.3,419.5 L520.0,419.7 L520.7,419.8 L521.3,419.9 L521.9,420.0 L522.5,420.0 L523.2,420.1 L523.9,420.1 L524.6,420.1 L525.3,420.0 L525.9,420.0 L526.4,419.9 L526.9,419.8 L527.3,419.6 L527.6,419.5 L527.9,419.4 L528.1,419.2 L528.4,419.0 L528.8,418.7 L529.2,418.2 L529.7,417.7 L530.1,417.1 L530.6,416.4 L531.1,415.7 L531.5,415.0 L531.9,414.3 L532.3,413.7 L532.7,413.1 L533.0,412.4 L533.3,411.7 L533.7,410.9 L534.0,410.1 L534.3,409.2 L534.6,408.4 L534.9,407.6 L535.1,406.9 L535.3,406.2 L535.5,405.5 L535.7,404.8 L535.8,404.1 L536.0,403.4 L536.1,402.7 L536.2,402.0 L536.3,401.4 L536.4,400.9 L536.5,400.5 L545.5,401.5 L545.5,401.9 L545.5,402.4 L545.5,403.0 L545.4,403.7 L545.4,404.5 L545.3,405.4 L545.3,406.3 L545.2,407.2 L545.0,408.2 L544.9,409.1 L544.7,410.0 L544.6,411.0 L544.4,412.0 L544.2,413.0 L543.9,414.1 L543.7,415.2 L543.4,416.3 L543.0,417.4 L542.6,418.6 L542.1,419.7 L541.6,420.7 L541.0,421.7 L540.4,422.7 L539.8,423.7 L539.1,424.8 L538.3,425.8 L537.4,426.8 L536.4,427.8 L535.3,428.8 L534.1,429.6 L532.8,430.3 L531.5,430.9 L530.2,431.3 L528.9,431.6 L527.6,431.8 L526.4,432.0 L525.1,432.1 L523.9,432.1 L522.7,432.1 L521.5,432.0 L520.3,431.8 L519.1,431.6 L517.9,431.3 L516.8,431.0 L515.7,430.7 L514.6,430.3 L513.5,429.8 L512.4,429.4 L511.2,428.9 L509.8,428.3 L508.4,427.7 L506.9,427.1 L505.3,426.4 L503.7,425.6 L502.0,424.9 L500.3,424.1 L498.6,423.3 L496.7,422.5 L494.8,421.6 L492.8,420.8 L490.6,419.9 L488.3,419.0 L485.8,418.0 L483.2,417.0 L480.5,416.0 L477.9,415.0 L475.2,414.0 L472.7,413.1 L470.4,412.2 L468.2,411.5 L466.1,410.8 L464.2,410.3 L462.4,409.7 L460.6,409.3 L458.8,408.8 L457.1,408.4 L455.4,408.0 L453.7,407.6 L452.1,407.2 L450.4,406.8 L448.8,406.3 L447.1,405.8 L445.4,405.4 L443.8,404.9 L442.2,404.5 L440.7,404.0 L439.4,403.6 L438.2,403.3 L437.2,403.0 L436.3,402.8 Z" fill="#000"/>
<path d="M466.4,366.0 L466.5,365.7 L466.8,365.3 L467.0,364.8 L467.4,364.2 L467.9,363.6 L468.4,363.0 L469.0,362.3 L469.7,361.7 L470.5,361.0 L471.3,360.5 L472.1,360.1 L472.9,359.8 L473.7,359.5 L474.6,359.3 L475.6,359.2 L476.7,359.1 L477.9,359.2 L479.3,359.5 L480.8,360.2 L482.1,361.1 L483.1,362.2 L483.9,363.3 L484.5,364.3 L484.9,365.3 L485.3,366.2 L485.6,367.2 L485.9,368.1 L486.1,369.0 L486.3,369.9 L486.5,370.8 L486.5,371.7 L486.6,372.6 L486.6,373.5 L486.6,374.5 L486.5,375.4 L486.5,376.4 L486.3,377.3 L486.2,378.3 L486.0,379.2 L485.8,380.1 L485.5,381.0 L485.2,381.8 L484.9,382.7 L484.6,383.6 L484.2,384.5 L483.7,385.4 L483.2,386.3 L482.7,387.2 L482.0,388.1 L481.4,388.9 L480.6,389.7 L479.9,390.4 L479.1,391.1 L478.3,391.7 L477.4,392.3 L476.6,392.9 L475.7,393.4 L474.8,393.8 L473.9,394.3 L473.0,394.7 L472.0,395.1 L471.0,395.4 L470.0,395.7 L469.0,395.9 L468.0,396.1 L467.0,396.3 L465.9,396.5 L464.9,396.7 L463.9,396.8 L462.9,396.9 L461.8,397.1 L460.6,397.2 L459.3,397.3 L458.1,397.3 L456.9,397.4 L455.7,397.4 L454.7,397.5 L453.7,397.5 L453.0,397.5 L452.4,397.5 L451.6,388.5 L452.3,388.4 L453.0,388.3 L454.0,388.2 L455.0,388.1 L456.1,387.9 L457.2,387.8 L458.3,387.6 L459.3,387.5 L460.3,387.3 L461.1,387.1 L461.9,386.8 L462.7,386.6 L463.5,386.3 L464.3,386.1 L465.0,385.8 L465.7,385.5 L466.4,385.2 L467.0,384.9 L467.5,384.6 L468.0,384.3 L468.5,384.0 L469.0,383.7 L469.5,383.4 L469.9,383.0 L470.3,382.7 L470.6,382.3 L470.9,382.0 L471.2,381.7 L471.4,381.4 L471.6,381.1 L471.8,380.8 L472.0,380.5 L472.2,380.1 L472.3,379.7 L472.5,379.3 L472.7,378.9 L472.8,378.4 L473.0,377.9 L473.1,377.4 L473.2,376.9 L473.3,376.4 L473.4,376.0 L473.5,375.5 L473.5,375.0 L473.6,374.5 L473.6,374.0 L473.6,373.5 L473.6,373.1 L473.6,372.6 L473.5,372.2 L473.5,371.8 L473.5,371.3 L473.5,370.8 L473.4,370.3 L473.3,369.9 L473.3,369.6 L473.3,369.4 L473.3,369.3 L473.5,369.5 L473.9,369.9 L474.5,370.3 L475.2,370.6 L475.7,370.7 L476.1,370.7 L476.2,370.6 L476.2,370.6 L476.1,370.6 L476.0,370.6 L475.8,370.6 L475.7,370.5 L475.6,370.4 L475.4,370.4 L475.0,370.5 L474.6,370.6 L474.0,370.9 L473.5,371.1 L473.0,371.4 L472.5,371.7 L472.0,371.9 L471.6,372.0 Z" fill="#000"/>
<path d="M324.7,235.9 L324.7,236.7 L324.8,237.8 L324.8,239.1 L324.9,240.6 L324.9,242.2 L325.0,243.8 L325.1,245.4 L325.1,247.0 L325.2,248.5 L325.2,249.9 L325.2,251.2 L325.3,252.5 L325.3,253.8 L325.3,255.1 L325.3,256.3 L325.3,257.4 L325.3,258.5 L325.4,259.6 L325.5,260.6 L325.6,261.6 L325.8,262.5 L325.9,263.4 L326.1,264.2 L326.4,264.9 L326.6,265.7 L326.9,266.5 L327.2,267.3 L327.5,268.1 L327.9,269.0 L328.3,269.9 L328.8,270.9 L329.3,272.0 L329.8,273.0 L330.3,274.1 L330.9,275.2 L331.5,276.3 L332.1,277.4 L332.7,278.5 L333.4,279.5 L334.1,280.6 L334.8,281.6 L335.6,282.7 L336.4,283.8 L337.3,284.9 L338.1,286.0 L334.2,289.2 L333.3,288.1 L332.4,286.9 L331.5,285.7 L330.7,284.6 L329.9,283.4 L329.1,282.3 L328.4,281.1 L327.7,280.0 L327.0,278.8 L326.4,277.6 L325.8,276.4 L325.2,275.3 L324.7,274.2 L324.2,273.1 L323.7,272.1 L323.2,271.1 L322.8,270.1 L322.4,269.2 L322.0,268.3 L321.7,267.4 L321.4,266.5 L321.1,265.5 L320.8,264.6 L320.6,263.5 L320.4,262.4 L320.2,261.2 L320.1,260.0 L320.0,258.8 L320.0,257.6 L319.9,256.4 L319.9,255.1 L319.9,253.9 L319.9,252.6 L319.8,251.4 L319.8,250.1 L319.7,248.7 L319.7,247.2 L319.6,245.6 L319.6,244.0 L319.5,242.3 L319.4,240.8 L319.4,239.3 L319.3,238.0 L319.3,236.9 L319.3,236.1 Z" fill="#fff"/>
<path d="M336.6,282.0 L337.4,283.1 L338.2,284.2 L339.1,285.2 L339.9,286.2 L340.8,287.2 L341.7,288.1 L342.5,288.9 L343.3,289.6 L344.2,290.1 L345.0,290.6 L345.9,291.1 L346.9,291.5 L348.0,291.9 L349.1,292.3 L350.2,292.8 L351.4,293.2 L352.6,293.8 L353.9,294.3 L355.0,294.9 L356.2,295.6 L357.3,296.2 L358.4,296.8 L359.5,297.4 L360.6,298.1 L361.6,298.7 L362.7,299.3 L363.8,299.9 L364.9,300.5 L365.9,301.0 L367.0,301.6 L368.1,302.1 L369.2,302.7 L370.3,303.2 L371.4,303.7 L372.5,304.3 L373.6,304.8 L374.7,305.4 L375.8,305.9 L376.9,306.5 L378.1,307.2 L379.4,307.8 L380.7,308.5 L381.9,309.1 L383.1,309.8 L384.2,310.3 L385.2,310.9 L386.0,311.3 L386.7,311.6 L383.3,318.4 L382.7,318.0 L381.8,317.7 L380.8,317.2 L379.7,316.6 L378.5,316.1 L377.2,315.5 L375.9,314.8 L374.6,314.2 L373.4,313.6 L372.2,313.1 L371.1,312.5 L370.0,312.0 L368.9,311.5 L367.8,310.9 L366.7,310.4 L365.6,309.8 L364.5,309.3 L363.4,308.7 L362.3,308.1 L361.1,307.5 L360.0,307.0 L358.9,306.4 L357.8,305.8 L356.6,305.2 L355.5,304.6 L354.4,304.0 L353.3,303.4 L352.2,302.8 L351.2,302.2 L350.1,301.7 L349.1,301.1 L348.1,300.6 L347.1,300.2 L346.0,299.7 L344.8,299.1 L343.6,298.6 L342.4,297.9 L341.1,297.2 L339.9,296.4 L338.7,295.4 L337.5,294.5 L336.4,293.4 L335.3,292.3 L334.3,291.2 L333.3,290.0 L332.3,288.8 L331.4,287.6 L330.6,286.4 Z" fill="#fff"/>
<path d="M350.4,242.5 L351.4,243.3 L352.5,244.1 L353.6,244.9 L354.6,245.7 L355.6,246.5 L356.5,247.2 L357.3,247.9 L358.1,248.7 L358.9,249.4 L359.6,250.1 L360.3,250.8 L361.0,251.5 L361.7,252.2 L362.4,253.0 L363.1,253.7 L363.8,254.5 L364.4,255.2 L365.1,256.0 L365.7,256.8 L366.4,257.6 L367.0,258.4 L367.7,259.2 L368.3,260.1 L368.9,261.0 L369.5,261.9 L370.0,262.9 L370.6,263.9 L371.0,264.9 L371.5,265.9 L371.9,267.0 L372.3,268.0 L368.1,269.6 L367.7,268.7 L367.3,267.7 L366.9,266.8 L366.4,266.0 L366.0,265.1 L365.5,264.3 L365.0,263.5 L364.5,262.8 L363.9,262.0 L363.3,261.2 L362.7,260.5 L362.1,259.8 L361.5,259.0 L360.9,258.3 L360.2,257.5 L359.6,256.8 L359.0,256.1 L358.3,255.4 L357.7,254.8 L357.0,254.1 L356.4,253.4 L355.7,252.8 L355.0,252.1 L354.2,251.4 L353.5,250.8 L352.7,250.1 L351.7,249.3 L350.8,248.5 L349.7,247.7 L348.7,246.9 L347.7,246.1 Z" fill="#fff"/>
<path d="M372.4,278.6 L372.7,279.7 L373.0,280.8 L373.3,281.9 L373.6,283.0 L373.9,284.1 L374.1,285.2 L374.4,286.3 L374.6,287.4 L374.8,288.5 L375.0,289.6 L375.2,290.7 L375.4,291.8 L375.5,292.9 L375.8,294.0 L376.0,295.1 L376.2,296.2 L376.5,297.3 L376.8,298.4 L375.5,298.8 L375.1,297.6 L374.9,296.5 L374.6,295.4 L374.3,294.3 L374.1,293.2 L373.9,292.0 L373.7,290.9 L373.5,289.8 L373.3,288.7 L373.1,287.6 L372.9,286.6 L372.6,285.5 L372.4,284.4 L372.1,283.4 L371.8,282.3 L371.5,281.2 L371.2,280.1 L370.9,279.0 Z" fill="#fff"/>
<path d="M432.0,369.0 C430.0,371.0 425.3,377.5 420.0,381.0 C414.7,384.5 406.7,387.0 400.0,390.0 C393.3,393.0 386.7,396.1 380.0,399.0 C373.3,401.9 366.2,404.2 360.0,407.5 C353.8,410.8 346.7,416.3 342.5,418.5 C338.3,420.7 339.2,418.6 335.0,420.5 C330.8,422.4 321.7,427.8 317.5,430.0 C313.3,432.2 314.2,431.6 310.0,433.5 C305.8,435.4 297.2,439.1 292.5,441.5 C287.8,443.9 283.8,446.9 282.0,448.0" stroke="#fff" stroke-width="4.2" fill="none" stroke-linecap="round" stroke-linejoin="round"/>
<path d="M429.5,362.0 C428.8,363.1 427.9,366.3 425.0,368.5 C422.1,370.7 416.2,373.1 412.0,375.0 C407.8,376.9 405.3,377.6 400.0,379.8 C394.7,382.0 385.3,385.6 380.0,388.0 C374.7,390.4 371.2,392.2 368.0,394.0 C364.8,395.8 362.2,397.8 361.0,398.5" stroke="#fff" stroke-width="4.0" fill="none" stroke-linecap="round" stroke-linejoin="round"/>
<path d="M158.0,428.5 C160.3,428.8 167.5,429.5 172.0,430.0 C176.5,430.5 180.3,430.7 185.0,431.5 C189.7,432.3 193.3,432.8 200.0,434.6 C206.7,436.4 216.7,439.7 225.0,442.2 C233.3,444.7 241.7,448.0 250.0,449.7 C258.3,451.4 269.2,452.1 275.0,452.6 C280.8,453.1 282.1,452.9 285.0,452.5 C287.9,452.1 288.3,451.5 292.5,450.0 C296.7,448.5 305.8,445.0 310.0,443.5 C314.2,442.0 313.3,442.8 317.5,441.0 C321.7,439.2 330.8,434.8 335.0,433.0 C339.2,431.2 338.3,432.0 342.5,430.0 C346.7,428.0 353.8,424.2 360.0,421.0 C366.2,417.8 373.3,414.1 380.0,410.9 C386.7,407.6 393.3,404.6 400.0,401.5 C406.7,398.4 413.3,393.9 420.0,392.0 C426.7,390.1 434.7,390.2 440.0,390.0 C445.3,389.8 450.0,390.8 452.0,391.0" stroke="#fff" stroke-width="4.2" fill="none" stroke-linecap="round" stroke-linejoin="round"/>
<path d="M172.0,441.0 C174.2,441.4 180.3,442.5 185.0,443.5 C189.7,444.5 193.3,445.3 200.0,447.2 C206.7,449.1 216.7,453.1 225.0,454.8 C233.3,456.5 245.0,457.0 250.0,457.5 C255.0,458.0 254.2,457.9 255.0,458.0" stroke="#fff" stroke-width="4.0" fill="none" stroke-linecap="round" stroke-linejoin="round"/>
<path d="M303.0,459.0 C304.2,460.3 307.2,464.5 310.0,467.0 C312.8,469.5 316.7,472.6 320.0,474.0 C323.3,475.4 327.0,475.7 330.0,475.5 C333.0,475.3 335.7,474.2 338.0,473.0 C340.3,471.8 342.2,470.0 344.0,468.0 C345.8,466.0 347.2,463.7 349.0,461.0 C350.8,458.3 353.2,454.7 355.0,452.0 C356.8,449.3 358.2,447.5 360.0,445.0 C361.8,442.5 363.5,439.8 366.0,437.0 C368.5,434.2 372.7,430.5 375.0,428.0 C377.3,425.5 375.8,424.8 380.0,422.0 C384.2,419.2 393.3,414.9 400.0,411.5 C406.7,408.1 413.3,403.8 420.0,401.5 C426.7,399.2 436.7,398.6 440.0,398.0" stroke="#fff" stroke-width="3.6" fill="none" stroke-linecap="round" stroke-linejoin="round"/>
<path d="M438.7,394.5 L439.5,394.7 L440.6,395.0 L441.8,395.3 L443.1,395.7 L444.6,396.1 L446.2,396.6 L447.8,397.1 L449.4,397.5 L451.1,398.0 L452.7,398.5 L454.3,398.9 L455.9,399.3 L457.5,399.8 L459.2,400.2 L461.0,400.7 L462.8,401.1 L464.7,401.7 L466.6,402.3 L468.7,402.9 L470.8,403.6 L473.1,404.4 L475.5,405.3 L478.1,406.2 L480.8,407.2 L483.5,408.2 L486.2,409.3 L488.8,410.3 L491.3,411.3 L493.7,412.3 L496.0,413.2 L498.0,414.0 L500.0,414.9 L501.9,415.7 L503.8,416.6 L505.5,417.4 L507.1,418.1 L508.7,418.8 L510.2,419.5 L511.6,420.1 L512.9,420.7 L514.2,421.1 L515.4,421.6 L516.4,422.0 L517.4,422.3 L518.3,422.6 L519.1,422.8 L519.9,423.0 L520.6,423.2 L521.4,423.3 L522.2,423.4 L523.1,423.4 L523.9,423.4 L524.8,423.4 L525.6,423.4 L526.4,423.3 L527.1,423.2 L527.8,423.0 L528.5,422.8 L529.1,422.5 L529.6,422.2 L530.2,421.9 L530.7,421.5 L531.2,420.9 L531.8,420.3 L532.3,419.7 L532.8,418.9 L533.4,418.2 L533.9,417.4 L534.3,416.6 L534.8,415.8 L535.2,415.1 L535.6,414.3 L535.9,413.5 L536.2,412.6 L536.6,411.8 L536.8,410.9 L537.1,410.0 L537.4,409.1 L537.6,408.3 L537.9,407.5 L538.1,406.7 L538.2,406.0 L542.5,406.7 L542.3,407.6 L542.1,408.5 L542.0,409.4 L541.8,410.3 L541.6,411.2 L541.3,412.2 L541.1,413.2 L540.8,414.2 L540.5,415.2 L540.1,416.2 L539.7,417.2 L539.2,418.2 L538.7,419.1 L538.2,420.0 L537.7,420.9 L537.1,421.9 L536.4,422.8 L535.8,423.7 L535.0,424.5 L534.2,425.3 L533.3,426.1 L532.4,426.8 L531.4,427.3 L530.3,427.7 L529.3,428.1 L528.2,428.3 L527.1,428.5 L526.1,428.6 L525.0,428.7 L523.9,428.7 L522.8,428.7 L521.8,428.6 L520.7,428.5 L519.7,428.3 L518.7,428.1 L517.7,427.8 L516.7,427.5 L515.7,427.2 L514.7,426.8 L513.6,426.3 L512.4,425.9 L511.1,425.3 L509.6,424.8 L508.2,424.1 L506.6,423.5 L505.0,422.7 L503.4,422.0 L501.7,421.2 L499.9,420.3 L498.0,419.5 L496.1,418.7 L494.0,417.8 L491.8,417.0 L489.5,416.0 L486.9,415.0 L484.3,414.0 L481.7,413.0 L479.0,411.9 L476.4,411.0 L473.8,410.0 L471.4,409.2 L469.2,408.4 L467.1,407.7 L465.2,407.1 L463.3,406.6 L461.4,406.1 L459.7,405.7 L457.9,405.2 L456.2,404.8 L454.6,404.4 L452.9,404.0 L451.3,403.5 L449.7,403.1 L448.0,402.6 L446.3,402.1 L444.7,401.7 L443.1,401.2 L441.7,400.8 L440.3,400.4 L439.1,400.1 L438.1,399.8 L437.3,399.5 Z" fill="#fff"/>
<path d="M305.0,463.0 C306.0,463.8 310.0,467.2 311.0,468.0" stroke="#fff" stroke-width="1.8" fill="none" stroke-linecap="round" stroke-linejoin="round"/>
<path d="M316.0,455.0 C317.2,456.0 321.0,459.7 323.0,461.0 C325.0,462.3 327.2,462.7 328.0,463.0" stroke="#fff" stroke-width="4.5" fill="none" stroke-linecap="round" stroke-linejoin="round"/>
<path d="M325.0,449.0 C326.0,449.7 329.3,452.0 331.0,453.0 C332.7,454.0 334.3,454.7 335.0,455.0" stroke="#fff" stroke-width="3.8" fill="none" stroke-linecap="round" stroke-linejoin="round"/>
<path d="M339.0,452.0 C339.7,450.8 341.7,447.3 343.0,445.0 C344.3,442.7 346.3,439.2 347.0,438.0" stroke="#fff" stroke-width="3.6" fill="none" stroke-linecap="round" stroke-linejoin="round"/>
<path d="M475.5,369.5 C475.8,369.9 477.0,370.7 477.3,372.0 C477.6,373.3 477.6,375.7 477.3,377.5 C477.0,379.3 476.4,381.3 475.3,383.0 C474.2,384.7 472.2,386.4 470.5,387.5 C468.8,388.6 467.2,389.2 465.0,389.8 C462.8,390.4 458.3,391.1 457.0,391.3" stroke="#fff" stroke-width="3.8" fill="none" stroke-linecap="round" stroke-linejoin="round"/>
<path d="M380.7,301.5 L381.5,301.7 L382.6,302.1 L383.8,302.5 L385.3,302.9 L386.8,303.5 L388.4,304.0 L390.0,304.6 L391.6,305.2 L393.1,305.8 L394.5,306.3 L395.7,307.0 L396.9,307.6 L397.9,308.3 L398.9,308.9 L399.8,309.5 L400.6,310.0 L401.4,310.6 L402.2,311.1 L402.9,311.6 L403.7,312.0 L404.6,312.6 L405.4,313.1 L406.4,313.6 L407.3,314.2 L408.3,314.8 L409.3,315.4 L410.3,316.0 L411.4,316.6 L412.4,317.2 L413.4,317.8 L414.5,318.4 L415.5,319.0 L416.5,319.6 L417.6,320.2 L418.6,320.8 L419.7,321.5 L420.8,322.1 L421.9,322.8 L422.9,323.5 L423.9,324.2 L425.0,324.8 L426.1,325.4 L427.2,326.1 L428.3,326.8 L429.4,327.5 L430.5,328.2 L431.5,328.9 L432.6,329.7 L433.6,330.5 L434.6,331.3 L435.6,332.0 L436.6,332.8 L437.5,333.6 L438.4,334.4 L439.3,335.2 L440.2,336.2 L441.0,337.1 L441.8,338.2 L442.5,339.2 L443.2,340.4 L443.8,341.7 L444.2,343.0 L444.6,344.3 L444.9,345.6 L445.0,346.9 L445.1,348.2 L445.2,349.5 L445.1,350.7 L445.0,351.9 L444.9,353.1 L444.6,354.2 L444.2,355.4 L443.8,356.6 L443.3,357.8 L442.8,359.0 L442.2,360.2 L441.6,361.4 L440.9,362.6 L440.1,363.8 L439.3,364.9 L438.4,366.1 L437.5,367.2 L436.6,368.2 L435.7,369.1 L434.7,370.0 L433.8,370.8 L432.9,371.6 L432.1,372.3 L431.2,373.1 L430.3,373.8 L426.8,370.0 L427.6,369.2 L428.4,368.5 L429.2,367.8 L430.1,367.0 L430.9,366.2 L431.7,365.4 L432.5,364.6 L433.2,363.7 L433.9,362.8 L434.6,361.9 L435.3,360.9 L435.9,359.9 L436.4,358.9 L436.9,357.9 L437.4,356.9 L437.8,355.8 L438.1,354.8 L438.5,353.8 L438.8,352.9 L439.0,351.9 L439.1,351.0 L439.2,350.0 L439.3,349.1 L439.3,348.2 L439.2,347.2 L439.1,346.2 L439.0,345.3 L438.7,344.3 L438.4,343.4 L438.0,342.4 L437.6,341.5 L437.0,340.7 L436.5,339.8 L435.9,339.0 L435.2,338.2 L434.5,337.4 L433.8,336.7 L433.1,336.0 L432.3,335.2 L431.5,334.5 L430.6,333.8 L429.7,333.0 L428.8,332.3 L427.8,331.5 L426.8,330.8 L425.8,330.1 L424.8,329.4 L423.8,328.8 L422.7,328.1 L421.7,327.4 L420.7,326.8 L419.7,326.1 L418.7,325.5 L417.7,324.9 L416.6,324.2 L415.6,323.6 L414.6,323.0 L413.5,322.5 L412.5,321.9 L411.5,321.3 L410.5,320.7 L409.5,320.1 L408.4,319.6 L407.4,319.0 L406.4,318.5 L405.4,317.9 L404.4,317.4 L403.5,316.9 L402.5,316.3 L401.6,315.8 L400.8,315.3 L399.9,314.8 L399.1,314.3 L398.3,313.8 L397.5,313.2 L396.6,312.7 L395.7,312.1 L394.7,311.5 L393.7,310.9 L392.5,310.4 L391.3,309.8 L389.8,309.2 L388.3,308.6 L386.8,308.0 L385.2,307.4 L383.7,306.8 L382.3,306.3 L381.0,305.8 L380.0,305.4 L379.2,305.2 Z" fill="#fff"/>
<path d="M377.2,310.0 L377.9,310.4 L379.0,310.8 L380.2,311.4 L381.6,312.0 L383.0,312.6 L384.5,313.2 L386.0,313.9 L387.5,314.6 L388.8,315.2 L389.9,315.7 L390.9,316.2 L391.8,316.7 L392.7,317.2 L393.6,317.7 L394.4,318.2 L395.2,318.7 L396.1,319.3 L397.0,319.8 L397.9,320.3 L398.8,320.8 L399.8,321.4 L400.8,321.9 L401.9,322.4 L402.9,322.9 L403.9,323.4 L404.9,323.9 L405.9,324.4 L406.9,324.9 L407.9,325.4 L408.9,325.9 L409.9,326.5 L410.9,327.0 L411.9,327.6 L412.9,328.2 L413.9,328.8 L414.9,329.4 L415.9,330.0 L416.9,330.6 L417.8,331.2 L418.8,331.8 L419.7,332.5 L420.6,333.2 L421.6,333.9 L422.5,334.6 L423.4,335.3 L424.3,336.0 L425.1,336.7 L425.9,337.4 L426.6,338.1 L427.2,338.8 L427.8,339.5 L428.4,340.1 L428.9,340.8 L429.4,341.5 L429.8,342.1 L430.1,342.8 L430.5,343.4 L430.7,344.0 L430.9,344.6 L431.1,345.1 L431.3,345.6 L431.4,346.1 L431.5,346.6 L431.5,347.1 L431.5,347.6 L431.5,348.0 L431.4,348.6 L431.4,349.1 L431.3,349.7 L431.1,350.4 L431.0,351.0 L430.8,351.7 L430.6,352.5 L430.4,353.3 L430.2,354.0 L429.9,354.8 L429.5,355.6 L429.2,356.4 L423.1,353.1 L423.2,352.6 L423.4,352.0 L423.5,351.5 L423.7,350.9 L423.8,350.4 L423.8,349.8 L423.9,349.4 L423.9,348.9 L424.0,348.6 L424.1,348.3 L424.2,348.1 L424.3,348.0 L424.4,347.9 L424.5,347.8 L424.6,347.8 L424.6,347.8 L424.7,347.7 L424.8,347.6 L424.9,347.4 L424.9,347.0 L424.9,346.7 L424.9,346.2 L424.8,345.8 L424.6,345.2 L424.4,344.6 L424.1,344.0 L423.8,343.4 L423.4,342.7 L422.9,342.1 L422.3,341.5 L421.7,340.8 L421.0,340.1 L420.3,339.4 L419.4,338.7 L418.6,338.0 L417.8,337.2 L416.9,336.5 L416.1,335.8 L415.2,335.2 L414.3,334.7 L413.4,334.1 L412.4,333.5 L411.5,333.0 L410.5,332.4 L409.5,331.8 L408.5,331.3 L407.6,330.7 L406.6,330.2 L405.6,329.7 L404.6,329.2 L403.6,328.8 L402.6,328.3 L401.6,327.9 L400.5,327.4 L399.5,327.0 L398.4,326.5 L397.3,326.0 L396.3,325.5 L395.2,324.9 L394.2,324.3 L393.3,323.8 L392.4,323.3 L391.6,322.8 L390.8,322.4 L390.0,321.9 L389.2,321.5 L388.4,321.1 L387.5,320.7 L386.5,320.1 L385.3,319.5 L383.9,318.8 L382.5,318.1 L381.1,317.4 L379.6,316.7 L378.3,316.0 L377.1,315.4 L376.1,314.9 L375.3,314.5 Z" fill="#fff"/>
<path d="M433.7,340.4 L434.2,341.2 L434.7,341.9 L435.1,342.7 L435.4,343.4 L435.7,344.2 L436.0,345.0 L436.1,345.8 L436.3,346.6 L436.3,347.3 L436.4,348.1 L436.3,348.9 L436.3,349.7 L436.2,350.5 L436.0,351.3 L435.8,352.2 L435.6,353.1 L435.3,354.0 L435.0,354.9 L434.7,355.8 L434.3,356.7 L433.8,357.7 L433.4,358.6 L432.8,359.5 L432.3,360.3 L431.7,361.2 L431.1,362.0 L430.4,362.8 L428.5,361.2 L429.1,360.5 L429.7,359.7 L430.2,359.0 L430.7,358.2 L431.1,357.4 L431.5,356.6 L431.9,355.7 L432.3,354.9 L432.6,354.0 L432.8,353.2 L433.1,352.4 L433.3,351.6 L433.4,350.8 L433.5,350.1 L433.7,349.4 L433.7,348.7 L433.8,348.1 L433.8,347.5 L433.7,346.8 L433.6,346.2 L433.5,345.6 L433.3,345.0 L433.1,344.3 L432.9,343.7 L432.6,343.0 L432.2,342.3 L431.8,341.7 Z" fill="#fff"/>


<rect x="52.9" y="296.5" width="14.6" height="37.4" rx="2.2" fill="#000"/>
<ellipse cx="60.2" cy="333.9" rx="12.5" ry="8.6" fill="#000"/>
<ellipse cx="60.2" cy="330.5" rx="3.2" ry="2.9" fill="#fff"/>
<path d="M52.0,331.5 Q60.2,337.0 68.5,331.5 Q60.2,344.9 52.0,331.5 Z" fill="#fff"/>
<ellipse cx="60.2" cy="305.5" rx="3.3" ry="3.4" fill="#fff"/>
<rect x="58.7" y="296.0" width="3" height="3" fill="#fff"/>
<rect x="144.9" y="312.3" width="15.1" height="36.8" rx="2.2" fill="#000"/>
<ellipse cx="152.4" cy="349.1" rx="12.7" ry="8.4" fill="#000"/>
<ellipse cx="152.4" cy="345.7" rx="3.2" ry="2.9" fill="#fff"/>
<path d="M144.0,346.7 Q152.4,352.1 160.8,346.7 Q152.4,359.9 144.0,346.7 Z" fill="#fff"/>
<ellipse cx="152.5" cy="318.5" rx="3.0" ry="4.8" fill="#fff"/>
<rect x="297.5" y="289.0" width="15.0" height="32.4" rx="2.2" fill="#000"/>
<ellipse cx="305.0" cy="321.4" rx="12.7" ry="8.7" fill="#000"/>
<ellipse cx="305.0" cy="317.9" rx="3.2" ry="2.9" fill="#fff"/>
<path d="M296.6,318.9 Q305.0,324.5 313.4,318.9 Q305.0,332.4 296.6,318.9 Z" fill="#fff"/>
<rect x="391.3" y="334.0" width="15.1" height="30.5" rx="2.2" fill="#000"/>
<ellipse cx="396.6" cy="364.5" rx="10.4" ry="6.8" fill="#000"/>
<ellipse cx="396.6" cy="361.8" rx="3.2" ry="2.9" fill="#fff"/>
<path d="M389.7,362.6 Q396.6,367.0 403.5,362.6 Q396.6,373.3 389.7,362.6 Z" fill="#fff"/>
<path d="M457.0,451.0 L457.0,421.1 L464.1,415.6 L471.2,421.1 L471.2,451.0 Z" fill="#000"/>
<ellipse cx="465.0" cy="451.0" rx="12.7" ry="8.0" fill="#000"/>
<ellipse cx="465.0" cy="447.8" rx="3.2" ry="2.9" fill="#fff"/>
<path d="M456.6,448.8 Q465.0,453.9 473.4,448.8 Q465.0,461.2 456.6,448.8 Z" fill="#fff"/>
<ellipse cx="464.0" cy="424.2" rx="2.0" ry="1.3" fill="#fff"/>
<rect x="549.9" y="460.6" width="14.2" height="31.8" rx="2.2" fill="#000"/>
<ellipse cx="556.8" cy="492.4" rx="12.5" ry="7.7" fill="#000"/>
<ellipse cx="556.8" cy="489.3" rx="3.2" ry="2.9" fill="#fff"/>
<path d="M548.5,490.2 Q556.8,495.1 565.0,490.2 Q556.8,502.1 548.5,490.2 Z" fill="#fff"/>
<ellipse cx="556.5" cy="466.6" rx="2.2" ry="1.7" fill="#fff"/>
<ellipse cx="556.5" cy="475.7" rx="1.6" ry="1.4" fill="#fff"/>

<path d="M81,196 L86,192.5 L92.5,188.5 L97.5,185 L112,186.5 L125,189.5 L129,192 L134,204 L146,206 L152,207 L154.5,212 L154.5,247 L160,247 L165.5,251 L167.5,259 L166.5,270 L161,276.5 L150,277.5 L138,281.5 L130,282.5 L95,279 L66,272 L59,268 L52,264 L48,256 L48,242 L51,235 L58,231 L63.5,228.5 L70,214 L75.5,205 Z" fill="#000"/>
<g fill="#fff">
<path d="M87.5,200.5 L84,210 L84.5,222.5 L88.5,227 L69.5,226.5 Z"/>
<path d="M134.5,208 L146,212 L131,236 L122,234.5 L127,226 L131,215 Z"/>
<path d="M139,241 L147.5,223 L147.5,246 L142,254 L137.5,270 Z"/>
<path d="M69,234.4 L95,238.3 L95,272 L69,265 Z"/>
<path d="M101,239 L126,243 L127,273.4 L101,272 Z"/>
<path d="M129.4,244 L134,243.5 L135,276 L129.6,276 Z"/>
<ellipse cx="56.3" cy="240.2" rx="2.8" ry="3.6"/>
<ellipse cx="56.3" cy="249.5" rx="2.8" ry="2.8"/>
<circle cx="100" cy="192" r="1.9"/>
<circle cx="107.5" cy="194.4" r="1.7"/>
<circle cx="117.5" cy="195.6" r="1.8"/>
<circle cx="95" cy="202.5" r="1.8"/>
<circle cx="101" cy="205.6" r="1.5"/>
<circle cx="112.5" cy="206" r="1.8"/>
<circle cx="119" cy="209" r="1.3"/>
<rect x="87.5" y="210" width="5.5" height="12.5" rx="1.5"/>
<rect x="102.5" y="213" width="7.5" height="12" rx="1.5"/>
<rect x="115" y="215" width="4.5" height="10" rx="1.5"/>
<path d="M142,264.6 Q149,267.5 156,263.2 L161.7,262.5 Q163.5,267 156,269.6 Q150.5,272.5 143.5,268.9 Z"/>
<ellipse cx="144.2" cy="255.5" rx="1.5" ry="2.1"/>
<ellipse cx="148" cy="250.2" rx="1.9" ry="1.1"/>
<ellipse cx="152.5" cy="253" rx="1.5" ry="1"/>
<ellipse cx="159" cy="254.5" rx="1.4" ry="2.5"/>
</g>


<path d="M47.5,445 L51,442.5 L105,431 L120,429.5 L129,429 L140,427 L143,421 L152,423 L162,428 L168,436 L170,448 L185,452 L197,455 L197,460 L180,467.5 L180.5,486 L172.5,496 L160,501 L147.5,505 L135,510 L126,514 L120,513 L105,517.5 L90,522.5 L77.5,527.5 L67.5,527.5 L61,522.5 L58.5,514 L51,509 L44,501 L42.5,492.5 L43,470 L45,452 Z" fill="#000"/>
<g fill="#fff">
<path d="M57.5,446.5 L103,436.5 L108,439 L110,446 L106,452 L94,456 L62,465 L59,458 Z"/>
<path d="M67.5,469 L94,462.5 L100,465 L102,473 L73,477 Z"/>
<path d="M101,457 L110,454 L122,462 L123,476 L112,476 Z"/>
<path d="M49.5,463 L56,462 L56.5,471.5 L50,472.5 Z"/>
<path d="M48,476 L55,475 L54.5,481 L48,486 Z"/>
<ellipse cx="69" cy="482" rx="2.3" ry="3.8"/>
<path d="M74,480 L103,474 L105,476 L105,488 L76,494 Z"/>
<path d="M83,498 L101,494 L102.5,500 L84,505 Z"/>
<ellipse cx="71" cy="504" rx="5" ry="3.5"/>
<path d="M72,516 L100,507 L101,511 L73,520 Z"/>
<ellipse cx="64" cy="516.5" rx="1.8" ry="2.5"/>
<path d="M105.5,478 L109,477 L109.5,494 L106,495 Z"/>
<path d="M129,467 L145,463 L146,500 L145,502.5 L131,508.5 L127.5,507.5 Z"/>
<path d="M158,467.3 L162,466 L167.3,468.4 L170.6,472.8 L166.3,475 L167.3,478.3 L171.7,481.6 L162,482 L157.5,478.3 Z"/>
<path d="M157.5,488 Q168,490 175,484 Q176,493 166,495 Q158,496 157.5,488 Z"/>
<ellipse cx="152" cy="496" rx="2" ry="3"/>
<path d="M111,435 L127,432.5 L128,436 L112,438.5 Z"/>
<path d="M115,443 L131,439 L133,443 L117,446.5 Z"/>
<ellipse cx="130" cy="447" rx="3.5" ry="1.8"/>
<path d="M121,455 L140,452.5 L144,460 L125,462.5 Z"/>
<ellipse cx="139" cy="439" rx="3" ry="3.8"/>
<ellipse cx="149.5" cy="432.5" rx="4" ry="6" transform="rotate(-20 149.5 432.5)"/>
<ellipse cx="149" cy="447.5" rx="6" ry="3.5" transform="rotate(-10 149 447.5)"/>
<ellipse cx="153" cy="460" rx="2.5" ry="2.5"/>
<ellipse cx="162" cy="444" rx="3" ry="3"/>
<path d="M161,455 L170,450.5 L172.5,452 L163,457.5 Z"/>
</g>


<path d="M303,176 L305,171 L311,169 L321,172.5 L334,179 L346,186 L357.5,191 L362.5,196 L364,204 L371,205.6 L377.5,204 L385.3,208.75 L388.4,215 L390,221 L394.7,222.8 L397,227.5 L397.8,263.4 L402.5,265 L407,268 L409,277.5 L405.6,284 L399.4,285.5 L380.6,285.5 L377,282 L375,270 L368,259 L358,252 L348,248 L338,246 L330,242 L314,249 L306,247.5 L300,242.5 L296,234 L297.5,226 L303,218 Z" fill="#000"/>
<g fill="#fff">
<path d="M308,182 L316,190 L324,196 L330,203 L332,212 L333,224 L308,214 Z"/>
<path d="M308.5,219.5 L331,230.5 L330,234.5 L307.5,223.5 Z"/>
<path d="M308,228 L326,236.5 L319,238 L313.5,241.5 L308.5,246.5 Z"/>
<ellipse cx="302" cy="239.5" rx="1.3" ry="1"/>
<path d="M351,212 L358.75,216.5 L365,219.7 L374,219.7 L374,250 L371,249.4 L358.75,241.5 L349.4,237 Z"/>
<path d="M376.5,221 L382,221 L382,274 L376.5,274 Z"/>
<path d="M385.5,232 L391.5,232 L391.5,268 L385.5,268 Z"/>
<ellipse cx="391.5" cy="272.8" rx="7.8" ry="2.4"/>
<circle cx="357.5" cy="202.5" r="1.6"/>
<circle cx="346" cy="205" r="1.3"/>
<circle cx="345" cy="215" r="1.1"/>
</g>
<circle cx="322" cy="206" r="2.6" fill="#000"/>
<circle cx="362" cy="230.6" r="3.2" fill="#000"/>


<path d="M460,301 L462,297 L466,295.6 L472.5,297.5 L481,300 L491,305 L500,310 L507.5,315 L515,317.5 L518,322.5 L518,327.5 L521,331 L530.6,329.4 L540,332.5 L544.7,338.75 L546,348 L549.4,351 L551,367 L552.5,378 L557,379.4 L558.75,388.75 L563.4,395 L564,401 L562,407.5 L557,410 L537,410.6 L531,408 L527.5,398 L526,388 L521,380.5 L512,375 L503,371 L495,368 L488,363 L480,361 L470,364 L462,362 L459,352 Z" fill="#000"/>
<g fill="#fff">
<path d="M463,307 L469,312.5 L475,319 L482.5,322.5 L485,326 L487,335 L487.5,347.5 L464,340 Z"/>
<path d="M465,345.5 L486,353 L486,357 L465,349.5 Z"/>
<path d="M462.5,355 L470.6,356.5 L470.8,363 L468.5,368 L465,370.5 L462.5,368 Z"/>
<path d="M504,335.6 L512,340 L519.7,345 L526,343.4 L528,343 L528,376 L518,371.6 L504,363.75 Z"/>
<path d="M531.4,342 L538.4,342 L538.4,398 L531.4,398 Z"/>
<path d="M541.5,357.5 L549.4,357.5 L549.4,395 L541.5,395 Z"/>
<ellipse cx="548" cy="398.5" rx="7" ry="2.8"/>
<path d="M509,327 L515,326 L513,331 Z"/>
<path d="M500.5,328 L503.5,328 L503.5,342 L500.5,342 Z"/>
</g>
<path d="M451,338 L460,338 L462,352 L458,356 L452,354 Z" fill="#000"/>
<path d="M452,356 L466,378" stroke="#000" stroke-width="3" fill="none"/>
<circle cx="475" cy="332.5" r="4" fill="#000"/>
<circle cx="516.6" cy="356" r="4" fill="#000"/>

</svg>
</body></html>
